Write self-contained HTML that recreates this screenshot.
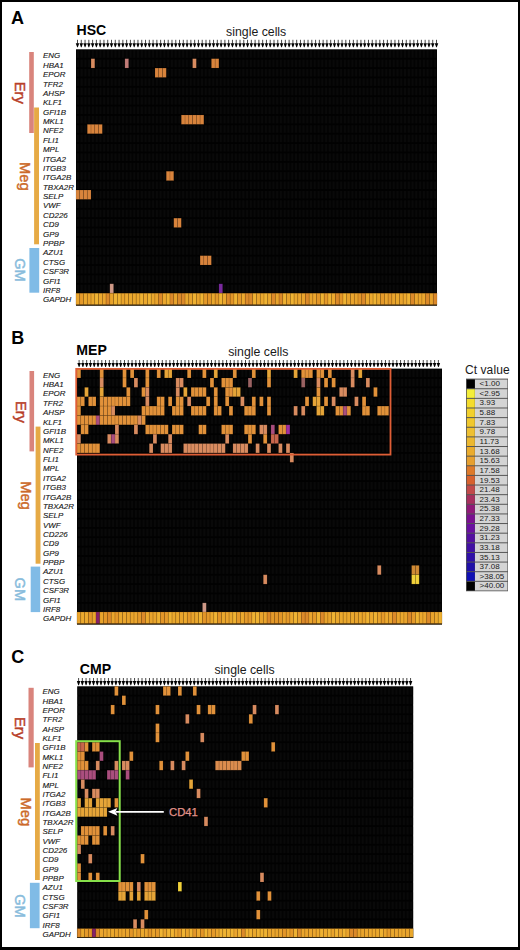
<!DOCTYPE html>
<html><head><meta charset="utf-8"><style>
html,body{margin:0;padding:0;background:#fff;}
body{width:520px;height:950px;position:relative;overflow:hidden;font-family:"Liberation Sans",sans-serif;}
svg{position:absolute;left:0;top:0;}
.frame{position:absolute;left:0;top:0;width:520px;height:950px;box-sizing:border-box;border:2px solid #000;border-bottom-width:3px;}
text{font-family:"Liberation Sans",sans-serif;}
.pl{font-size:18px;font-weight:bold;fill:#000;}
.ttl{font-size:14.1px;font-weight:bold;fill:#000;}
.sc{font-size:12.3px;fill:#1a1a1a;}
.gl{font-size:7.95px;font-style:italic;fill:#151515;stroke:#151515;stroke-width:0.12px;}
.grp{font-family:"Liberation Sans",sans-serif;}
.ctv{font-size:12px;fill:#1a1a1a;letter-spacing:0.1px;}
.lt{font-size:8px;fill:#1a1a1a;}
.cd{font-size:11.3px;fill:#e2928a;stroke:#e2928a;stroke-width:0.25px;}
</style></head><body>
<svg width="520" height="950" viewBox="0 0 520 950">
<defs><pattern id="patA" x="76.0" y="49.3" width="3.7604" height="9.3800" patternUnits="userSpaceOnUse"><rect x="0.7" y="0.9" width="2.360" height="7.580" fill="#090909"/></pattern><pattern id="patB" x="77.0" y="368.6" width="3.8021" height="9.3700" patternUnits="userSpaceOnUse"><rect x="0.7" y="0.9" width="2.402" height="7.570" fill="#090909"/></pattern><pattern id="patC" x="77.2" y="686.3" width="3.7333" height="9.3200" patternUnits="userSpaceOnUse"><rect x="0.7" y="0.9" width="2.333" height="7.520" fill="#090909"/></pattern></defs>
<text x="11" y="24.3" class="pl">A</text>
<text x="76.5" y="34.9" class="ttl">HSC</text>
<text x="256.2" y="35.5" class="sc" text-anchor="middle">single cells</text>
<line x1="77.50" y1="39.8" x2="77.50" y2="43.70" stroke="#333" stroke-width="0.9"/>
<path d="M75.75 43.20 L79.25 43.20 L77.80 47.30 L77.20 47.30 Z" fill="#000"/>
<line x1="81.28" y1="39.8" x2="81.28" y2="43.70" stroke="#333" stroke-width="0.9"/>
<path d="M79.53 43.20 L83.03 43.20 L81.58 47.30 L80.98 47.30 Z" fill="#000"/>
<line x1="85.06" y1="39.8" x2="85.06" y2="43.70" stroke="#333" stroke-width="0.9"/>
<path d="M83.31 43.20 L86.81 43.20 L85.36 47.30 L84.76 47.30 Z" fill="#000"/>
<line x1="88.84" y1="39.8" x2="88.84" y2="43.70" stroke="#333" stroke-width="0.9"/>
<path d="M87.09 43.20 L90.59 43.20 L89.14 47.30 L88.54 47.30 Z" fill="#000"/>
<line x1="92.62" y1="39.8" x2="92.62" y2="43.70" stroke="#333" stroke-width="0.9"/>
<path d="M90.87 43.20 L94.37 43.20 L92.92 47.30 L92.32 47.30 Z" fill="#000"/>
<line x1="96.39" y1="39.8" x2="96.39" y2="43.70" stroke="#333" stroke-width="0.9"/>
<path d="M94.64 43.20 L98.14 43.20 L96.69 47.30 L96.09 47.30 Z" fill="#000"/>
<line x1="100.17" y1="39.8" x2="100.17" y2="43.70" stroke="#333" stroke-width="0.9"/>
<path d="M98.42 43.20 L101.92 43.20 L100.47 47.30 L99.87 47.30 Z" fill="#000"/>
<line x1="103.95" y1="39.8" x2="103.95" y2="43.70" stroke="#333" stroke-width="0.9"/>
<path d="M102.20 43.20 L105.70 43.20 L104.25 47.30 L103.65 47.30 Z" fill="#000"/>
<line x1="107.73" y1="39.8" x2="107.73" y2="43.70" stroke="#333" stroke-width="0.9"/>
<path d="M105.98 43.20 L109.48 43.20 L108.03 47.30 L107.43 47.30 Z" fill="#000"/>
<line x1="111.51" y1="39.8" x2="111.51" y2="43.70" stroke="#333" stroke-width="0.9"/>
<path d="M109.76 43.20 L113.26 43.20 L111.81 47.30 L111.21 47.30 Z" fill="#000"/>
<line x1="115.29" y1="39.8" x2="115.29" y2="43.70" stroke="#333" stroke-width="0.9"/>
<path d="M113.54 43.20 L117.04 43.20 L115.59 47.30 L114.99 47.30 Z" fill="#000"/>
<line x1="119.07" y1="39.8" x2="119.07" y2="43.70" stroke="#333" stroke-width="0.9"/>
<path d="M117.32 43.20 L120.82 43.20 L119.37 47.30 L118.77 47.30 Z" fill="#000"/>
<line x1="122.85" y1="39.8" x2="122.85" y2="43.70" stroke="#333" stroke-width="0.9"/>
<path d="M121.10 43.20 L124.60 43.20 L123.15 47.30 L122.55 47.30 Z" fill="#000"/>
<line x1="126.63" y1="39.8" x2="126.63" y2="43.70" stroke="#333" stroke-width="0.9"/>
<path d="M124.88 43.20 L128.38 43.20 L126.93 47.30 L126.33 47.30 Z" fill="#000"/>
<line x1="130.41" y1="39.8" x2="130.41" y2="43.70" stroke="#333" stroke-width="0.9"/>
<path d="M128.66 43.20 L132.16 43.20 L130.71 47.30 L130.11 47.30 Z" fill="#000"/>
<line x1="134.19" y1="39.8" x2="134.19" y2="43.70" stroke="#333" stroke-width="0.9"/>
<path d="M132.44 43.20 L135.94 43.20 L134.49 47.30 L133.88 47.30 Z" fill="#000"/>
<line x1="137.96" y1="39.8" x2="137.96" y2="43.70" stroke="#333" stroke-width="0.9"/>
<path d="M136.21 43.20 L139.71 43.20 L138.26 47.30 L137.66 47.30 Z" fill="#000"/>
<line x1="141.74" y1="39.8" x2="141.74" y2="43.70" stroke="#333" stroke-width="0.9"/>
<path d="M139.99 43.20 L143.49 43.20 L142.04 47.30 L141.44 47.30 Z" fill="#000"/>
<line x1="145.52" y1="39.8" x2="145.52" y2="43.70" stroke="#333" stroke-width="0.9"/>
<path d="M143.77 43.20 L147.27 43.20 L145.82 47.30 L145.22 47.30 Z" fill="#000"/>
<line x1="149.30" y1="39.8" x2="149.30" y2="43.70" stroke="#333" stroke-width="0.9"/>
<path d="M147.55 43.20 L151.05 43.20 L149.60 47.30 L149.00 47.30 Z" fill="#000"/>
<line x1="153.08" y1="39.8" x2="153.08" y2="43.70" stroke="#333" stroke-width="0.9"/>
<path d="M151.33 43.20 L154.83 43.20 L153.38 47.30 L152.78 47.30 Z" fill="#000"/>
<line x1="156.86" y1="39.8" x2="156.86" y2="43.70" stroke="#333" stroke-width="0.9"/>
<path d="M155.11 43.20 L158.61 43.20 L157.16 47.30 L156.56 47.30 Z" fill="#000"/>
<line x1="160.64" y1="39.8" x2="160.64" y2="43.70" stroke="#333" stroke-width="0.9"/>
<path d="M158.89 43.20 L162.39 43.20 L160.94 47.30 L160.34 47.30 Z" fill="#000"/>
<line x1="164.42" y1="39.8" x2="164.42" y2="43.70" stroke="#333" stroke-width="0.9"/>
<path d="M162.67 43.20 L166.17 43.20 L164.72 47.30 L164.12 47.30 Z" fill="#000"/>
<line x1="168.20" y1="39.8" x2="168.20" y2="43.70" stroke="#333" stroke-width="0.9"/>
<path d="M166.45 43.20 L169.95 43.20 L168.50 47.30 L167.90 47.30 Z" fill="#000"/>
<line x1="171.97" y1="39.8" x2="171.97" y2="43.70" stroke="#333" stroke-width="0.9"/>
<path d="M170.22 43.20 L173.72 43.20 L172.28 47.30 L171.67 47.30 Z" fill="#000"/>
<line x1="175.75" y1="39.8" x2="175.75" y2="43.70" stroke="#333" stroke-width="0.9"/>
<path d="M174.00 43.20 L177.50 43.20 L176.05 47.30 L175.45 47.30 Z" fill="#000"/>
<line x1="179.53" y1="39.8" x2="179.53" y2="43.70" stroke="#333" stroke-width="0.9"/>
<path d="M177.78 43.20 L181.28 43.20 L179.83 47.30 L179.23 47.30 Z" fill="#000"/>
<line x1="183.31" y1="39.8" x2="183.31" y2="43.70" stroke="#333" stroke-width="0.9"/>
<path d="M181.56 43.20 L185.06 43.20 L183.61 47.30 L183.01 47.30 Z" fill="#000"/>
<line x1="187.09" y1="39.8" x2="187.09" y2="43.70" stroke="#333" stroke-width="0.9"/>
<path d="M185.34 43.20 L188.84 43.20 L187.39 47.30 L186.79 47.30 Z" fill="#000"/>
<line x1="190.87" y1="39.8" x2="190.87" y2="43.70" stroke="#333" stroke-width="0.9"/>
<path d="M189.12 43.20 L192.62 43.20 L191.17 47.30 L190.57 47.30 Z" fill="#000"/>
<line x1="194.65" y1="39.8" x2="194.65" y2="43.70" stroke="#333" stroke-width="0.9"/>
<path d="M192.90 43.20 L196.40 43.20 L194.95 47.30 L194.35 47.30 Z" fill="#000"/>
<line x1="198.43" y1="39.8" x2="198.43" y2="43.70" stroke="#333" stroke-width="0.9"/>
<path d="M196.68 43.20 L200.18 43.20 L198.73 47.30 L198.13 47.30 Z" fill="#000"/>
<line x1="202.21" y1="39.8" x2="202.21" y2="43.70" stroke="#333" stroke-width="0.9"/>
<path d="M200.46 43.20 L203.96 43.20 L202.51 47.30 L201.91 47.30 Z" fill="#000"/>
<line x1="205.99" y1="39.8" x2="205.99" y2="43.70" stroke="#333" stroke-width="0.9"/>
<path d="M204.24 43.20 L207.74 43.20 L206.29 47.30 L205.69 47.30 Z" fill="#000"/>
<line x1="209.76" y1="39.8" x2="209.76" y2="43.70" stroke="#333" stroke-width="0.9"/>
<path d="M208.01 43.20 L211.51 43.20 L210.06 47.30 L209.46 47.30 Z" fill="#000"/>
<line x1="213.54" y1="39.8" x2="213.54" y2="43.70" stroke="#333" stroke-width="0.9"/>
<path d="M211.79 43.20 L215.29 43.20 L213.84 47.30 L213.24 47.30 Z" fill="#000"/>
<line x1="217.32" y1="39.8" x2="217.32" y2="43.70" stroke="#333" stroke-width="0.9"/>
<path d="M215.57 43.20 L219.07 43.20 L217.62 47.30 L217.02 47.30 Z" fill="#000"/>
<line x1="221.10" y1="39.8" x2="221.10" y2="43.70" stroke="#333" stroke-width="0.9"/>
<path d="M219.35 43.20 L222.85 43.20 L221.40 47.30 L220.80 47.30 Z" fill="#000"/>
<line x1="224.88" y1="39.8" x2="224.88" y2="43.70" stroke="#333" stroke-width="0.9"/>
<path d="M223.13 43.20 L226.63 43.20 L225.18 47.30 L224.58 47.30 Z" fill="#000"/>
<line x1="228.66" y1="39.8" x2="228.66" y2="43.70" stroke="#333" stroke-width="0.9"/>
<path d="M226.91 43.20 L230.41 43.20 L228.96 47.30 L228.36 47.30 Z" fill="#000"/>
<line x1="232.44" y1="39.8" x2="232.44" y2="43.70" stroke="#333" stroke-width="0.9"/>
<path d="M230.69 43.20 L234.19 43.20 L232.74 47.30 L232.14 47.30 Z" fill="#000"/>
<line x1="236.22" y1="39.8" x2="236.22" y2="43.70" stroke="#333" stroke-width="0.9"/>
<path d="M234.47 43.20 L237.97 43.20 L236.52 47.30 L235.92 47.30 Z" fill="#000"/>
<line x1="240.00" y1="39.8" x2="240.00" y2="43.70" stroke="#333" stroke-width="0.9"/>
<path d="M238.25 43.20 L241.75 43.20 L240.30 47.30 L239.70 47.30 Z" fill="#000"/>
<line x1="243.78" y1="39.8" x2="243.78" y2="43.70" stroke="#333" stroke-width="0.9"/>
<path d="M242.03 43.20 L245.53 43.20 L244.08 47.30 L243.48 47.30 Z" fill="#000"/>
<line x1="247.56" y1="39.8" x2="247.56" y2="43.70" stroke="#333" stroke-width="0.9"/>
<path d="M245.81 43.20 L249.31 43.20 L247.86 47.30 L247.25 47.30 Z" fill="#000"/>
<line x1="251.33" y1="39.8" x2="251.33" y2="43.70" stroke="#333" stroke-width="0.9"/>
<path d="M249.58 43.20 L253.08 43.20 L251.63 47.30 L251.03 47.30 Z" fill="#000"/>
<line x1="255.11" y1="39.8" x2="255.11" y2="43.70" stroke="#333" stroke-width="0.9"/>
<path d="M253.36 43.20 L256.86 43.20 L255.41 47.30 L254.81 47.30 Z" fill="#000"/>
<line x1="258.89" y1="39.8" x2="258.89" y2="43.70" stroke="#333" stroke-width="0.9"/>
<path d="M257.14 43.20 L260.64 43.20 L259.19 47.30 L258.59 47.30 Z" fill="#000"/>
<line x1="262.67" y1="39.8" x2="262.67" y2="43.70" stroke="#333" stroke-width="0.9"/>
<path d="M260.92 43.20 L264.42 43.20 L262.97 47.30 L262.37 47.30 Z" fill="#000"/>
<line x1="266.45" y1="39.8" x2="266.45" y2="43.70" stroke="#333" stroke-width="0.9"/>
<path d="M264.70 43.20 L268.20 43.20 L266.75 47.30 L266.15 47.30 Z" fill="#000"/>
<line x1="270.23" y1="39.8" x2="270.23" y2="43.70" stroke="#333" stroke-width="0.9"/>
<path d="M268.48 43.20 L271.98 43.20 L270.53 47.30 L269.93 47.30 Z" fill="#000"/>
<line x1="274.01" y1="39.8" x2="274.01" y2="43.70" stroke="#333" stroke-width="0.9"/>
<path d="M272.26 43.20 L275.76 43.20 L274.31 47.30 L273.71 47.30 Z" fill="#000"/>
<line x1="277.79" y1="39.8" x2="277.79" y2="43.70" stroke="#333" stroke-width="0.9"/>
<path d="M276.04 43.20 L279.54 43.20 L278.09 47.30 L277.49 47.30 Z" fill="#000"/>
<line x1="281.57" y1="39.8" x2="281.57" y2="43.70" stroke="#333" stroke-width="0.9"/>
<path d="M279.82 43.20 L283.32 43.20 L281.87 47.30 L281.27 47.30 Z" fill="#000"/>
<line x1="285.35" y1="39.8" x2="285.35" y2="43.70" stroke="#333" stroke-width="0.9"/>
<path d="M283.60 43.20 L287.10 43.20 L285.65 47.30 L285.05 47.30 Z" fill="#000"/>
<line x1="289.12" y1="39.8" x2="289.12" y2="43.70" stroke="#333" stroke-width="0.9"/>
<path d="M287.37 43.20 L290.87 43.20 L289.42 47.30 L288.82 47.30 Z" fill="#000"/>
<line x1="292.90" y1="39.8" x2="292.90" y2="43.70" stroke="#333" stroke-width="0.9"/>
<path d="M291.15 43.20 L294.65 43.20 L293.20 47.30 L292.60 47.30 Z" fill="#000"/>
<line x1="296.68" y1="39.8" x2="296.68" y2="43.70" stroke="#333" stroke-width="0.9"/>
<path d="M294.93 43.20 L298.43 43.20 L296.98 47.30 L296.38 47.30 Z" fill="#000"/>
<line x1="300.46" y1="39.8" x2="300.46" y2="43.70" stroke="#333" stroke-width="0.9"/>
<path d="M298.71 43.20 L302.21 43.20 L300.76 47.30 L300.16 47.30 Z" fill="#000"/>
<line x1="304.24" y1="39.8" x2="304.24" y2="43.70" stroke="#333" stroke-width="0.9"/>
<path d="M302.49 43.20 L305.99 43.20 L304.54 47.30 L303.94 47.30 Z" fill="#000"/>
<line x1="308.02" y1="39.8" x2="308.02" y2="43.70" stroke="#333" stroke-width="0.9"/>
<path d="M306.27 43.20 L309.77 43.20 L308.32 47.30 L307.72 47.30 Z" fill="#000"/>
<line x1="311.80" y1="39.8" x2="311.80" y2="43.70" stroke="#333" stroke-width="0.9"/>
<path d="M310.05 43.20 L313.55 43.20 L312.10 47.30 L311.50 47.30 Z" fill="#000"/>
<line x1="315.58" y1="39.8" x2="315.58" y2="43.70" stroke="#333" stroke-width="0.9"/>
<path d="M313.83 43.20 L317.33 43.20 L315.88 47.30 L315.28 47.30 Z" fill="#000"/>
<line x1="319.36" y1="39.8" x2="319.36" y2="43.70" stroke="#333" stroke-width="0.9"/>
<path d="M317.61 43.20 L321.11 43.20 L319.66 47.30 L319.06 47.30 Z" fill="#000"/>
<line x1="323.13" y1="39.8" x2="323.13" y2="43.70" stroke="#333" stroke-width="0.9"/>
<path d="M321.38 43.20 L324.88 43.20 L323.44 47.30 L322.83 47.30 Z" fill="#000"/>
<line x1="326.91" y1="39.8" x2="326.91" y2="43.70" stroke="#333" stroke-width="0.9"/>
<path d="M325.16 43.20 L328.66 43.20 L327.21 47.30 L326.61 47.30 Z" fill="#000"/>
<line x1="330.69" y1="39.8" x2="330.69" y2="43.70" stroke="#333" stroke-width="0.9"/>
<path d="M328.94 43.20 L332.44 43.20 L330.99 47.30 L330.39 47.30 Z" fill="#000"/>
<line x1="334.47" y1="39.8" x2="334.47" y2="43.70" stroke="#333" stroke-width="0.9"/>
<path d="M332.72 43.20 L336.22 43.20 L334.77 47.30 L334.17 47.30 Z" fill="#000"/>
<line x1="338.25" y1="39.8" x2="338.25" y2="43.70" stroke="#333" stroke-width="0.9"/>
<path d="M336.50 43.20 L340.00 43.20 L338.55 47.30 L337.95 47.30 Z" fill="#000"/>
<line x1="342.03" y1="39.8" x2="342.03" y2="43.70" stroke="#333" stroke-width="0.9"/>
<path d="M340.28 43.20 L343.78 43.20 L342.33 47.30 L341.73 47.30 Z" fill="#000"/>
<line x1="345.81" y1="39.8" x2="345.81" y2="43.70" stroke="#333" stroke-width="0.9"/>
<path d="M344.06 43.20 L347.56 43.20 L346.11 47.30 L345.51 47.30 Z" fill="#000"/>
<line x1="349.59" y1="39.8" x2="349.59" y2="43.70" stroke="#333" stroke-width="0.9"/>
<path d="M347.84 43.20 L351.34 43.20 L349.89 47.30 L349.29 47.30 Z" fill="#000"/>
<line x1="353.37" y1="39.8" x2="353.37" y2="43.70" stroke="#333" stroke-width="0.9"/>
<path d="M351.62 43.20 L355.12 43.20 L353.67 47.30 L353.07 47.30 Z" fill="#000"/>
<line x1="357.15" y1="39.8" x2="357.15" y2="43.70" stroke="#333" stroke-width="0.9"/>
<path d="M355.40 43.20 L358.90 43.20 L357.45 47.30 L356.85 47.30 Z" fill="#000"/>
<line x1="360.93" y1="39.8" x2="360.93" y2="43.70" stroke="#333" stroke-width="0.9"/>
<path d="M359.18 43.20 L362.68 43.20 L361.23 47.30 L360.62 47.30 Z" fill="#000"/>
<line x1="364.70" y1="39.8" x2="364.70" y2="43.70" stroke="#333" stroke-width="0.9"/>
<path d="M362.95 43.20 L366.45 43.20 L365.00 47.30 L364.40 47.30 Z" fill="#000"/>
<line x1="368.48" y1="39.8" x2="368.48" y2="43.70" stroke="#333" stroke-width="0.9"/>
<path d="M366.73 43.20 L370.23 43.20 L368.78 47.30 L368.18 47.30 Z" fill="#000"/>
<line x1="372.26" y1="39.8" x2="372.26" y2="43.70" stroke="#333" stroke-width="0.9"/>
<path d="M370.51 43.20 L374.01 43.20 L372.56 47.30 L371.96 47.30 Z" fill="#000"/>
<line x1="376.04" y1="39.8" x2="376.04" y2="43.70" stroke="#333" stroke-width="0.9"/>
<path d="M374.29 43.20 L377.79 43.20 L376.34 47.30 L375.74 47.30 Z" fill="#000"/>
<line x1="379.82" y1="39.8" x2="379.82" y2="43.70" stroke="#333" stroke-width="0.9"/>
<path d="M378.07 43.20 L381.57 43.20 L380.12 47.30 L379.52 47.30 Z" fill="#000"/>
<line x1="383.60" y1="39.8" x2="383.60" y2="43.70" stroke="#333" stroke-width="0.9"/>
<path d="M381.85 43.20 L385.35 43.20 L383.90 47.30 L383.30 47.30 Z" fill="#000"/>
<line x1="387.38" y1="39.8" x2="387.38" y2="43.70" stroke="#333" stroke-width="0.9"/>
<path d="M385.63 43.20 L389.13 43.20 L387.68 47.30 L387.08 47.30 Z" fill="#000"/>
<line x1="391.16" y1="39.8" x2="391.16" y2="43.70" stroke="#333" stroke-width="0.9"/>
<path d="M389.41 43.20 L392.91 43.20 L391.46 47.30 L390.86 47.30 Z" fill="#000"/>
<line x1="394.94" y1="39.8" x2="394.94" y2="43.70" stroke="#333" stroke-width="0.9"/>
<path d="M393.19 43.20 L396.69 43.20 L395.24 47.30 L394.64 47.30 Z" fill="#000"/>
<line x1="398.71" y1="39.8" x2="398.71" y2="43.70" stroke="#333" stroke-width="0.9"/>
<path d="M396.96 43.20 L400.46 43.20 L399.01 47.30 L398.41 47.30 Z" fill="#000"/>
<line x1="402.49" y1="39.8" x2="402.49" y2="43.70" stroke="#333" stroke-width="0.9"/>
<path d="M400.74 43.20 L404.24 43.20 L402.79 47.30 L402.19 47.30 Z" fill="#000"/>
<line x1="406.27" y1="39.8" x2="406.27" y2="43.70" stroke="#333" stroke-width="0.9"/>
<path d="M404.52 43.20 L408.02 43.20 L406.57 47.30 L405.97 47.30 Z" fill="#000"/>
<line x1="410.05" y1="39.8" x2="410.05" y2="43.70" stroke="#333" stroke-width="0.9"/>
<path d="M408.30 43.20 L411.80 43.20 L410.35 47.30 L409.75 47.30 Z" fill="#000"/>
<line x1="413.83" y1="39.8" x2="413.83" y2="43.70" stroke="#333" stroke-width="0.9"/>
<path d="M412.08 43.20 L415.58 43.20 L414.13 47.30 L413.53 47.30 Z" fill="#000"/>
<line x1="417.61" y1="39.8" x2="417.61" y2="43.70" stroke="#333" stroke-width="0.9"/>
<path d="M415.86 43.20 L419.36 43.20 L417.91 47.30 L417.31 47.30 Z" fill="#000"/>
<line x1="421.39" y1="39.8" x2="421.39" y2="43.70" stroke="#333" stroke-width="0.9"/>
<path d="M419.64 43.20 L423.14 43.20 L421.69 47.30 L421.09 47.30 Z" fill="#000"/>
<line x1="425.17" y1="39.8" x2="425.17" y2="43.70" stroke="#333" stroke-width="0.9"/>
<path d="M423.42 43.20 L426.92 43.20 L425.47 47.30 L424.87 47.30 Z" fill="#000"/>
<line x1="428.95" y1="39.8" x2="428.95" y2="43.70" stroke="#333" stroke-width="0.9"/>
<path d="M427.20 43.20 L430.70 43.20 L429.25 47.30 L428.65 47.30 Z" fill="#000"/>
<line x1="432.73" y1="39.8" x2="432.73" y2="43.70" stroke="#333" stroke-width="0.9"/>
<path d="M430.98 43.20 L434.48 43.20 L433.03 47.30 L432.43 47.30 Z" fill="#000"/>
<line x1="436.50" y1="39.8" x2="436.50" y2="43.70" stroke="#333" stroke-width="0.9"/>
<path d="M434.75 43.20 L438.25 43.20 L436.81 47.30 L436.20 47.30 Z" fill="#000"/>
<rect x="76.0" y="49.3" width="361.00" height="256.30" fill="#000"/>
<rect x="76.0" y="49.3" width="361.00" height="243.90" fill="url(#patA)"/>
<rect x="91.04" y="58.68" width="3.76" height="9.38" fill="#d98c60" stroke="#000" stroke-opacity="0.18" stroke-width="0.6"/>
<rect x="124.89" y="58.68" width="3.76" height="9.38" fill="#c27c78" stroke="#000" stroke-opacity="0.18" stroke-width="0.6"/>
<rect x="192.57" y="58.68" width="3.76" height="9.38" fill="#d98c60" stroke="#000" stroke-opacity="0.18" stroke-width="0.6"/>
<rect x="211.38" y="58.68" width="3.76" height="9.38" fill="#d9843c" stroke="#000" stroke-opacity="0.18" stroke-width="0.6"/>
<rect x="215.14" y="58.68" width="3.76" height="9.38" fill="#d9843c" stroke="#000" stroke-opacity="0.18" stroke-width="0.6"/>
<rect x="154.97" y="68.06" width="3.76" height="9.38" fill="#d9843c" stroke="#000" stroke-opacity="0.18" stroke-width="0.6"/>
<rect x="158.73" y="68.06" width="3.76" height="9.38" fill="#d9843c" stroke="#000" stroke-opacity="0.18" stroke-width="0.6"/>
<rect x="162.49" y="68.06" width="3.76" height="9.38" fill="#d9843c" stroke="#000" stroke-opacity="0.18" stroke-width="0.6"/>
<rect x="181.29" y="114.96" width="3.76" height="9.38" fill="#d9843c" stroke="#000" stroke-opacity="0.18" stroke-width="0.6"/>
<rect x="185.05" y="114.96" width="3.76" height="9.38" fill="#d9843c" stroke="#000" stroke-opacity="0.18" stroke-width="0.6"/>
<rect x="188.81" y="114.96" width="3.76" height="9.38" fill="#d9843c" stroke="#000" stroke-opacity="0.18" stroke-width="0.6"/>
<rect x="192.57" y="114.96" width="3.76" height="9.38" fill="#d9843c" stroke="#000" stroke-opacity="0.18" stroke-width="0.6"/>
<rect x="196.33" y="114.96" width="3.76" height="9.38" fill="#d9843c" stroke="#000" stroke-opacity="0.18" stroke-width="0.6"/>
<rect x="200.09" y="114.96" width="3.76" height="9.38" fill="#d9843c" stroke="#000" stroke-opacity="0.18" stroke-width="0.6"/>
<rect x="87.28" y="124.34" width="3.76" height="9.38" fill="#d9843c" stroke="#000" stroke-opacity="0.18" stroke-width="0.6"/>
<rect x="91.04" y="124.34" width="3.76" height="9.38" fill="#d9843c" stroke="#000" stroke-opacity="0.18" stroke-width="0.6"/>
<rect x="94.80" y="124.34" width="3.76" height="9.38" fill="#d9843c" stroke="#000" stroke-opacity="0.18" stroke-width="0.6"/>
<rect x="98.56" y="124.34" width="3.76" height="9.38" fill="#d9843c" stroke="#000" stroke-opacity="0.18" stroke-width="0.6"/>
<rect x="166.25" y="171.24" width="3.76" height="9.38" fill="#d9843c" stroke="#000" stroke-opacity="0.18" stroke-width="0.6"/>
<rect x="170.01" y="171.24" width="3.76" height="9.38" fill="#d9843c" stroke="#000" stroke-opacity="0.18" stroke-width="0.6"/>
<rect x="76.00" y="190.00" width="3.76" height="9.38" fill="#d9843c" stroke="#000" stroke-opacity="0.18" stroke-width="0.6"/>
<rect x="79.76" y="190.00" width="3.76" height="9.38" fill="#d9843c" stroke="#000" stroke-opacity="0.18" stroke-width="0.6"/>
<rect x="83.52" y="190.00" width="3.76" height="9.38" fill="#d9843c" stroke="#000" stroke-opacity="0.18" stroke-width="0.6"/>
<rect x="87.28" y="190.00" width="3.76" height="9.38" fill="#d9843c" stroke="#000" stroke-opacity="0.18" stroke-width="0.6"/>
<rect x="173.77" y="218.14" width="3.76" height="9.38" fill="#d9843c" stroke="#000" stroke-opacity="0.18" stroke-width="0.6"/>
<rect x="177.53" y="218.14" width="3.76" height="9.38" fill="#d9843c" stroke="#000" stroke-opacity="0.18" stroke-width="0.6"/>
<rect x="200.09" y="255.66" width="3.76" height="9.38" fill="#d9843c" stroke="#000" stroke-opacity="0.18" stroke-width="0.6"/>
<rect x="203.85" y="255.66" width="3.76" height="9.38" fill="#d9843c" stroke="#000" stroke-opacity="0.18" stroke-width="0.6"/>
<rect x="207.61" y="255.66" width="3.76" height="9.38" fill="#d9843c" stroke="#000" stroke-opacity="0.18" stroke-width="0.6"/>
<rect x="109.84" y="283.80" width="3.76" height="9.38" fill="#d09a88" stroke="#000" stroke-opacity="0.18" stroke-width="0.6"/>
<rect x="218.90" y="283.80" width="3.76" height="9.38" fill="#7a2a9e" stroke="#000" stroke-opacity="0.18" stroke-width="0.6"/>
<rect x="76.00" y="293.20" width="3.76" height="11.60" fill="#eba62e" stroke="#6a4010" stroke-opacity="0.35" stroke-width="0.6"/>
<rect x="79.76" y="293.20" width="3.76" height="11.60" fill="#e59a2a" stroke="#6a4010" stroke-opacity="0.35" stroke-width="0.6"/>
<rect x="83.52" y="293.20" width="3.76" height="11.60" fill="#eaa82d" stroke="#6a4010" stroke-opacity="0.35" stroke-width="0.6"/>
<rect x="87.28" y="293.20" width="3.76" height="11.60" fill="#e9a42c" stroke="#6a4010" stroke-opacity="0.35" stroke-width="0.6"/>
<rect x="91.04" y="293.20" width="3.76" height="11.60" fill="#eca92e" stroke="#6a4010" stroke-opacity="0.35" stroke-width="0.6"/>
<rect x="94.80" y="293.20" width="3.76" height="11.60" fill="#f0b433" stroke="#6a4010" stroke-opacity="0.35" stroke-width="0.6"/>
<rect x="98.56" y="293.20" width="3.76" height="11.60" fill="#eca92e" stroke="#6a4010" stroke-opacity="0.35" stroke-width="0.6"/>
<rect x="102.32" y="293.20" width="3.76" height="11.60" fill="#eba62e" stroke="#6a4010" stroke-opacity="0.35" stroke-width="0.6"/>
<rect x="106.08" y="293.20" width="3.76" height="11.60" fill="#dc8a2a" stroke="#6a4010" stroke-opacity="0.35" stroke-width="0.6"/>
<rect x="109.84" y="293.20" width="3.76" height="11.60" fill="#e9a42c" stroke="#6a4010" stroke-opacity="0.35" stroke-width="0.6"/>
<rect x="113.60" y="293.20" width="3.76" height="11.60" fill="#f0b433" stroke="#6a4010" stroke-opacity="0.35" stroke-width="0.6"/>
<rect x="117.36" y="293.20" width="3.76" height="11.60" fill="#efb232" stroke="#6a4010" stroke-opacity="0.35" stroke-width="0.6"/>
<rect x="121.12" y="293.20" width="3.76" height="11.60" fill="#e9a42c" stroke="#6a4010" stroke-opacity="0.35" stroke-width="0.6"/>
<rect x="124.89" y="293.20" width="3.76" height="11.60" fill="#eca92e" stroke="#6a4010" stroke-opacity="0.35" stroke-width="0.6"/>
<rect x="128.65" y="293.20" width="3.76" height="11.60" fill="#eaa82d" stroke="#6a4010" stroke-opacity="0.35" stroke-width="0.6"/>
<rect x="132.41" y="293.20" width="3.76" height="11.60" fill="#eaa82d" stroke="#6a4010" stroke-opacity="0.35" stroke-width="0.6"/>
<rect x="136.17" y="293.20" width="3.76" height="11.60" fill="#eca92e" stroke="#6a4010" stroke-opacity="0.35" stroke-width="0.6"/>
<rect x="139.93" y="293.20" width="3.76" height="11.60" fill="#efb232" stroke="#6a4010" stroke-opacity="0.35" stroke-width="0.6"/>
<rect x="143.69" y="293.20" width="3.76" height="11.60" fill="#eca92e" stroke="#6a4010" stroke-opacity="0.35" stroke-width="0.6"/>
<rect x="147.45" y="293.20" width="3.76" height="11.60" fill="#f0b433" stroke="#6a4010" stroke-opacity="0.35" stroke-width="0.6"/>
<rect x="151.21" y="293.20" width="3.76" height="11.60" fill="#eaa82d" stroke="#6a4010" stroke-opacity="0.35" stroke-width="0.6"/>
<rect x="154.97" y="293.20" width="3.76" height="11.60" fill="#e9a42c" stroke="#6a4010" stroke-opacity="0.35" stroke-width="0.6"/>
<rect x="158.73" y="293.20" width="3.76" height="11.60" fill="#dc8a2a" stroke="#6a4010" stroke-opacity="0.35" stroke-width="0.6"/>
<rect x="162.49" y="293.20" width="3.76" height="11.60" fill="#eca92e" stroke="#6a4010" stroke-opacity="0.35" stroke-width="0.6"/>
<rect x="166.25" y="293.20" width="3.76" height="11.60" fill="#efb232" stroke="#6a4010" stroke-opacity="0.35" stroke-width="0.6"/>
<rect x="170.01" y="293.20" width="3.76" height="11.60" fill="#dc8a2a" stroke="#6a4010" stroke-opacity="0.35" stroke-width="0.6"/>
<rect x="173.77" y="293.20" width="3.76" height="11.60" fill="#e9a42c" stroke="#6a4010" stroke-opacity="0.35" stroke-width="0.6"/>
<rect x="177.53" y="293.20" width="3.76" height="11.60" fill="#dc8a2a" stroke="#6a4010" stroke-opacity="0.35" stroke-width="0.6"/>
<rect x="181.29" y="293.20" width="3.76" height="11.60" fill="#dc8a2a" stroke="#6a4010" stroke-opacity="0.35" stroke-width="0.6"/>
<rect x="185.05" y="293.20" width="3.76" height="11.60" fill="#eaa82d" stroke="#6a4010" stroke-opacity="0.35" stroke-width="0.6"/>
<rect x="188.81" y="293.20" width="3.76" height="11.60" fill="#e9a42c" stroke="#6a4010" stroke-opacity="0.35" stroke-width="0.6"/>
<rect x="192.57" y="293.20" width="3.76" height="11.60" fill="#efb232" stroke="#6a4010" stroke-opacity="0.35" stroke-width="0.6"/>
<rect x="196.33" y="293.20" width="3.76" height="11.60" fill="#e9a42c" stroke="#6a4010" stroke-opacity="0.35" stroke-width="0.6"/>
<rect x="200.09" y="293.20" width="3.76" height="11.60" fill="#f0b433" stroke="#6a4010" stroke-opacity="0.35" stroke-width="0.6"/>
<rect x="203.85" y="293.20" width="3.76" height="11.60" fill="#e59a2a" stroke="#6a4010" stroke-opacity="0.35" stroke-width="0.6"/>
<rect x="207.61" y="293.20" width="3.76" height="11.60" fill="#e39628" stroke="#6a4010" stroke-opacity="0.35" stroke-width="0.6"/>
<rect x="211.38" y="293.20" width="3.76" height="11.60" fill="#eaa82d" stroke="#6a4010" stroke-opacity="0.35" stroke-width="0.6"/>
<rect x="215.14" y="293.20" width="3.76" height="11.60" fill="#e59a2a" stroke="#6a4010" stroke-opacity="0.35" stroke-width="0.6"/>
<rect x="218.90" y="293.20" width="3.76" height="11.60" fill="#f0b433" stroke="#6a4010" stroke-opacity="0.35" stroke-width="0.6"/>
<rect x="222.66" y="293.20" width="3.76" height="11.60" fill="#eca92e" stroke="#6a4010" stroke-opacity="0.35" stroke-width="0.6"/>
<rect x="226.42" y="293.20" width="3.76" height="11.60" fill="#dc8a2a" stroke="#6a4010" stroke-opacity="0.35" stroke-width="0.6"/>
<rect x="230.18" y="293.20" width="3.76" height="11.60" fill="#e39628" stroke="#6a4010" stroke-opacity="0.35" stroke-width="0.6"/>
<rect x="233.94" y="293.20" width="3.76" height="11.60" fill="#f0b433" stroke="#6a4010" stroke-opacity="0.35" stroke-width="0.6"/>
<rect x="237.70" y="293.20" width="3.76" height="11.60" fill="#e59a2a" stroke="#6a4010" stroke-opacity="0.35" stroke-width="0.6"/>
<rect x="241.46" y="293.20" width="3.76" height="11.60" fill="#eca92e" stroke="#6a4010" stroke-opacity="0.35" stroke-width="0.6"/>
<rect x="245.22" y="293.20" width="3.76" height="11.60" fill="#dc8a2a" stroke="#6a4010" stroke-opacity="0.35" stroke-width="0.6"/>
<rect x="248.98" y="293.20" width="3.76" height="11.60" fill="#dc8a2a" stroke="#6a4010" stroke-opacity="0.35" stroke-width="0.6"/>
<rect x="252.74" y="293.20" width="3.76" height="11.60" fill="#efb232" stroke="#6a4010" stroke-opacity="0.35" stroke-width="0.6"/>
<rect x="256.50" y="293.20" width="3.76" height="11.60" fill="#eba62e" stroke="#6a4010" stroke-opacity="0.35" stroke-width="0.6"/>
<rect x="260.26" y="293.20" width="3.76" height="11.60" fill="#eca92e" stroke="#6a4010" stroke-opacity="0.35" stroke-width="0.6"/>
<rect x="264.02" y="293.20" width="3.76" height="11.60" fill="#f0b433" stroke="#6a4010" stroke-opacity="0.35" stroke-width="0.6"/>
<rect x="267.78" y="293.20" width="3.76" height="11.60" fill="#eca92e" stroke="#6a4010" stroke-opacity="0.35" stroke-width="0.6"/>
<rect x="271.54" y="293.20" width="3.76" height="11.60" fill="#dc8a2a" stroke="#6a4010" stroke-opacity="0.35" stroke-width="0.6"/>
<rect x="275.30" y="293.20" width="3.76" height="11.60" fill="#e9a42c" stroke="#6a4010" stroke-opacity="0.35" stroke-width="0.6"/>
<rect x="279.06" y="293.20" width="3.76" height="11.60" fill="#dc8a2a" stroke="#6a4010" stroke-opacity="0.35" stroke-width="0.6"/>
<rect x="282.82" y="293.20" width="3.76" height="11.60" fill="#efb232" stroke="#6a4010" stroke-opacity="0.35" stroke-width="0.6"/>
<rect x="286.58" y="293.20" width="3.76" height="11.60" fill="#e9a42c" stroke="#6a4010" stroke-opacity="0.35" stroke-width="0.6"/>
<rect x="290.34" y="293.20" width="3.76" height="11.60" fill="#f0b433" stroke="#6a4010" stroke-opacity="0.35" stroke-width="0.6"/>
<rect x="294.10" y="293.20" width="3.76" height="11.60" fill="#eaa82d" stroke="#6a4010" stroke-opacity="0.35" stroke-width="0.6"/>
<rect x="297.86" y="293.20" width="3.76" height="11.60" fill="#eba62e" stroke="#6a4010" stroke-opacity="0.35" stroke-width="0.6"/>
<rect x="301.62" y="293.20" width="3.76" height="11.60" fill="#e9a42c" stroke="#6a4010" stroke-opacity="0.35" stroke-width="0.6"/>
<rect x="305.39" y="293.20" width="3.76" height="11.60" fill="#dc8a2a" stroke="#6a4010" stroke-opacity="0.35" stroke-width="0.6"/>
<rect x="309.15" y="293.20" width="3.76" height="11.60" fill="#e9a42c" stroke="#6a4010" stroke-opacity="0.35" stroke-width="0.6"/>
<rect x="312.91" y="293.20" width="3.76" height="11.60" fill="#eba62e" stroke="#6a4010" stroke-opacity="0.35" stroke-width="0.6"/>
<rect x="316.67" y="293.20" width="3.76" height="11.60" fill="#e39628" stroke="#6a4010" stroke-opacity="0.35" stroke-width="0.6"/>
<rect x="320.43" y="293.20" width="3.76" height="11.60" fill="#efb232" stroke="#6a4010" stroke-opacity="0.35" stroke-width="0.6"/>
<rect x="324.19" y="293.20" width="3.76" height="11.60" fill="#e59a2a" stroke="#6a4010" stroke-opacity="0.35" stroke-width="0.6"/>
<rect x="327.95" y="293.20" width="3.76" height="11.60" fill="#efb232" stroke="#6a4010" stroke-opacity="0.35" stroke-width="0.6"/>
<rect x="331.71" y="293.20" width="3.76" height="11.60" fill="#eca92e" stroke="#6a4010" stroke-opacity="0.35" stroke-width="0.6"/>
<rect x="335.47" y="293.20" width="3.76" height="11.60" fill="#dc8a2a" stroke="#6a4010" stroke-opacity="0.35" stroke-width="0.6"/>
<rect x="339.23" y="293.20" width="3.76" height="11.60" fill="#e39628" stroke="#6a4010" stroke-opacity="0.35" stroke-width="0.6"/>
<rect x="342.99" y="293.20" width="3.76" height="11.60" fill="#f0b433" stroke="#6a4010" stroke-opacity="0.35" stroke-width="0.6"/>
<rect x="346.75" y="293.20" width="3.76" height="11.60" fill="#e9a42c" stroke="#6a4010" stroke-opacity="0.35" stroke-width="0.6"/>
<rect x="350.51" y="293.20" width="3.76" height="11.60" fill="#eba62e" stroke="#6a4010" stroke-opacity="0.35" stroke-width="0.6"/>
<rect x="354.27" y="293.20" width="3.76" height="11.60" fill="#e9a42c" stroke="#6a4010" stroke-opacity="0.35" stroke-width="0.6"/>
<rect x="358.03" y="293.20" width="3.76" height="11.60" fill="#e39628" stroke="#6a4010" stroke-opacity="0.35" stroke-width="0.6"/>
<rect x="361.79" y="293.20" width="3.76" height="11.60" fill="#dc8a2a" stroke="#6a4010" stroke-opacity="0.35" stroke-width="0.6"/>
<rect x="365.55" y="293.20" width="3.76" height="11.60" fill="#eca92e" stroke="#6a4010" stroke-opacity="0.35" stroke-width="0.6"/>
<rect x="369.31" y="293.20" width="3.76" height="11.60" fill="#eca92e" stroke="#6a4010" stroke-opacity="0.35" stroke-width="0.6"/>
<rect x="373.07" y="293.20" width="3.76" height="11.60" fill="#f0b433" stroke="#6a4010" stroke-opacity="0.35" stroke-width="0.6"/>
<rect x="376.83" y="293.20" width="3.76" height="11.60" fill="#eaa82d" stroke="#6a4010" stroke-opacity="0.35" stroke-width="0.6"/>
<rect x="380.59" y="293.20" width="3.76" height="11.60" fill="#e59a2a" stroke="#6a4010" stroke-opacity="0.35" stroke-width="0.6"/>
<rect x="384.35" y="293.20" width="3.76" height="11.60" fill="#eba62e" stroke="#6a4010" stroke-opacity="0.35" stroke-width="0.6"/>
<rect x="388.11" y="293.20" width="3.76" height="11.60" fill="#e59a2a" stroke="#6a4010" stroke-opacity="0.35" stroke-width="0.6"/>
<rect x="391.88" y="293.20" width="3.76" height="11.60" fill="#e9a42c" stroke="#6a4010" stroke-opacity="0.35" stroke-width="0.6"/>
<rect x="395.64" y="293.20" width="3.76" height="11.60" fill="#eaa82d" stroke="#6a4010" stroke-opacity="0.35" stroke-width="0.6"/>
<rect x="399.40" y="293.20" width="3.76" height="11.60" fill="#e9a42c" stroke="#6a4010" stroke-opacity="0.35" stroke-width="0.6"/>
<rect x="403.16" y="293.20" width="3.76" height="11.60" fill="#eca92e" stroke="#6a4010" stroke-opacity="0.35" stroke-width="0.6"/>
<rect x="406.92" y="293.20" width="3.76" height="11.60" fill="#f0b433" stroke="#6a4010" stroke-opacity="0.35" stroke-width="0.6"/>
<rect x="410.68" y="293.20" width="3.76" height="11.60" fill="#dc8a2a" stroke="#6a4010" stroke-opacity="0.35" stroke-width="0.6"/>
<rect x="414.44" y="293.20" width="3.76" height="11.60" fill="#eba62e" stroke="#6a4010" stroke-opacity="0.35" stroke-width="0.6"/>
<rect x="418.20" y="293.20" width="3.76" height="11.60" fill="#eba62e" stroke="#6a4010" stroke-opacity="0.35" stroke-width="0.6"/>
<rect x="421.96" y="293.20" width="3.76" height="11.60" fill="#eba62e" stroke="#6a4010" stroke-opacity="0.35" stroke-width="0.6"/>
<rect x="425.72" y="293.20" width="3.76" height="11.60" fill="#dc8a2a" stroke="#6a4010" stroke-opacity="0.35" stroke-width="0.6"/>
<rect x="429.48" y="293.20" width="3.76" height="11.60" fill="#e9a42c" stroke="#6a4010" stroke-opacity="0.35" stroke-width="0.6"/>
<rect x="433.24" y="293.20" width="3.76" height="11.60" fill="#dc8a2a" stroke="#6a4010" stroke-opacity="0.35" stroke-width="0.6"/>
<rect x="76.0" y="304.70" width="361.00" height="0.9" fill="#3a2a10"/>
<text x="43.0" y="58.40" class="gl">ENG</text>
<text x="43.0" y="67.78" class="gl">HBA1</text>
<text x="43.0" y="77.16" class="gl">EPOR</text>
<text x="43.0" y="86.54" class="gl">TFR2</text>
<text x="43.0" y="95.92" class="gl">AHSP</text>
<text x="43.0" y="105.30" class="gl">KLF1</text>
<text x="43.0" y="114.68" class="gl">GFI1B</text>
<text x="43.0" y="124.06" class="gl">MKL1</text>
<text x="43.0" y="133.44" class="gl">NFE2</text>
<text x="43.0" y="142.82" class="gl">FLI1</text>
<text x="43.0" y="152.20" class="gl">MPL</text>
<text x="43.0" y="161.58" class="gl">ITGA2</text>
<text x="43.0" y="170.96" class="gl">ITGB3</text>
<text x="43.0" y="180.34" class="gl">ITGA2B</text>
<text x="43.0" y="189.72" class="gl">TBXA2R</text>
<text x="43.0" y="199.10" class="gl">SELP</text>
<text x="43.0" y="208.48" class="gl">VWF</text>
<text x="43.0" y="217.86" class="gl">CD226</text>
<text x="43.0" y="227.24" class="gl">CD9</text>
<text x="43.0" y="236.62" class="gl">GP9</text>
<text x="43.0" y="246.00" class="gl">PPBP</text>
<text x="43.0" y="255.38" class="gl">AZU1</text>
<text x="43.0" y="264.76" class="gl">CTSG</text>
<text x="43.0" y="274.14" class="gl">CSF3R</text>
<text x="43.0" y="283.52" class="gl">GFI1</text>
<text x="43.0" y="292.90" class="gl">IRF8</text>
<text x="43.0" y="302.28" class="gl">GAPDH</text>
<rect x="29.2" y="52" width="4.6" height="81" fill="#d9847c"/>
<rect x="34.1" y="107.5" width="4.9" height="136.8" fill="#e6aa45"/>
<rect x="29.4" y="248" width="9.8" height="44.7" fill="#80bbe6"/>
<text transform="translate(14.5,92.8) rotate(90)" text-anchor="middle" font-size="14.7" fill="#b8402a" stroke="#b8402a" stroke-width="0.45" class="grp">Ery</text>
<text transform="translate(20.2,176.4) rotate(90)" text-anchor="middle" font-size="14.7" fill="#cc6a2a" stroke="#cc6a2a" stroke-width="0.45" class="grp">Meg</text>
<text transform="translate(15.0,270.0) rotate(90)" text-anchor="middle" font-size="14.7" fill="#88bcdc" stroke="#88bcdc" stroke-width="0.45" class="grp">GM</text>
<text x="11.3" y="344.3" class="pl">B</text>
<text x="76.3" y="355.4" class="ttl">MEP</text>
<text x="258.3" y="355.6" class="sc" text-anchor="middle">single cells</text>
<line x1="79.10" y1="360.0" x2="79.10" y2="363.40" stroke="#333" stroke-width="0.9"/>
<path d="M77.35 362.90 L80.85 362.90 L79.40 367.00 L78.80 367.00 Z" fill="#000"/>
<line x1="82.88" y1="360.0" x2="82.88" y2="363.40" stroke="#333" stroke-width="0.9"/>
<path d="M81.13 362.90 L84.63 362.90 L83.18 367.00 L82.58 367.00 Z" fill="#000"/>
<line x1="86.66" y1="360.0" x2="86.66" y2="363.40" stroke="#333" stroke-width="0.9"/>
<path d="M84.91 362.90 L88.41 362.90 L86.96 367.00 L86.36 367.00 Z" fill="#000"/>
<line x1="90.45" y1="360.0" x2="90.45" y2="363.40" stroke="#333" stroke-width="0.9"/>
<path d="M88.70 362.90 L92.20 362.90 L90.75 367.00 L90.15 367.00 Z" fill="#000"/>
<line x1="94.23" y1="360.0" x2="94.23" y2="363.40" stroke="#333" stroke-width="0.9"/>
<path d="M92.48 362.90 L95.98 362.90 L94.53 367.00 L93.93 367.00 Z" fill="#000"/>
<line x1="98.01" y1="360.0" x2="98.01" y2="363.40" stroke="#333" stroke-width="0.9"/>
<path d="M96.26 362.90 L99.76 362.90 L98.31 367.00 L97.71 367.00 Z" fill="#000"/>
<line x1="101.79" y1="360.0" x2="101.79" y2="363.40" stroke="#333" stroke-width="0.9"/>
<path d="M100.04 362.90 L103.54 362.90 L102.09 367.00 L101.49 367.00 Z" fill="#000"/>
<line x1="105.57" y1="360.0" x2="105.57" y2="363.40" stroke="#333" stroke-width="0.9"/>
<path d="M103.82 362.90 L107.32 362.90 L105.87 367.00 L105.27 367.00 Z" fill="#000"/>
<line x1="109.36" y1="360.0" x2="109.36" y2="363.40" stroke="#333" stroke-width="0.9"/>
<path d="M107.61 362.90 L111.11 362.90 L109.66 367.00 L109.06 367.00 Z" fill="#000"/>
<line x1="113.14" y1="360.0" x2="113.14" y2="363.40" stroke="#333" stroke-width="0.9"/>
<path d="M111.39 362.90 L114.89 362.90 L113.44 367.00 L112.84 367.00 Z" fill="#000"/>
<line x1="116.92" y1="360.0" x2="116.92" y2="363.40" stroke="#333" stroke-width="0.9"/>
<path d="M115.17 362.90 L118.67 362.90 L117.22 367.00 L116.62 367.00 Z" fill="#000"/>
<line x1="120.70" y1="360.0" x2="120.70" y2="363.40" stroke="#333" stroke-width="0.9"/>
<path d="M118.95 362.90 L122.45 362.90 L121.00 367.00 L120.40 367.00 Z" fill="#000"/>
<line x1="124.48" y1="360.0" x2="124.48" y2="363.40" stroke="#333" stroke-width="0.9"/>
<path d="M122.73 362.90 L126.23 362.90 L124.78 367.00 L124.18 367.00 Z" fill="#000"/>
<line x1="128.27" y1="360.0" x2="128.27" y2="363.40" stroke="#333" stroke-width="0.9"/>
<path d="M126.52 362.90 L130.02 362.90 L128.57 367.00 L127.97 367.00 Z" fill="#000"/>
<line x1="132.05" y1="360.0" x2="132.05" y2="363.40" stroke="#333" stroke-width="0.9"/>
<path d="M130.30 362.90 L133.80 362.90 L132.35 367.00 L131.75 367.00 Z" fill="#000"/>
<line x1="135.83" y1="360.0" x2="135.83" y2="363.40" stroke="#333" stroke-width="0.9"/>
<path d="M134.08 362.90 L137.58 362.90 L136.13 367.00 L135.53 367.00 Z" fill="#000"/>
<line x1="139.61" y1="360.0" x2="139.61" y2="363.40" stroke="#333" stroke-width="0.9"/>
<path d="M137.86 362.90 L141.36 362.90 L139.91 367.00 L139.31 367.00 Z" fill="#000"/>
<line x1="143.39" y1="360.0" x2="143.39" y2="363.40" stroke="#333" stroke-width="0.9"/>
<path d="M141.64 362.90 L145.14 362.90 L143.69 367.00 L143.09 367.00 Z" fill="#000"/>
<line x1="147.18" y1="360.0" x2="147.18" y2="363.40" stroke="#333" stroke-width="0.9"/>
<path d="M145.43 362.90 L148.93 362.90 L147.48 367.00 L146.88 367.00 Z" fill="#000"/>
<line x1="150.96" y1="360.0" x2="150.96" y2="363.40" stroke="#333" stroke-width="0.9"/>
<path d="M149.21 362.90 L152.71 362.90 L151.26 367.00 L150.66 367.00 Z" fill="#000"/>
<line x1="154.74" y1="360.0" x2="154.74" y2="363.40" stroke="#333" stroke-width="0.9"/>
<path d="M152.99 362.90 L156.49 362.90 L155.04 367.00 L154.44 367.00 Z" fill="#000"/>
<line x1="158.52" y1="360.0" x2="158.52" y2="363.40" stroke="#333" stroke-width="0.9"/>
<path d="M156.77 362.90 L160.27 362.90 L158.82 367.00 L158.22 367.00 Z" fill="#000"/>
<line x1="162.30" y1="360.0" x2="162.30" y2="363.40" stroke="#333" stroke-width="0.9"/>
<path d="M160.55 362.90 L164.05 362.90 L162.60 367.00 L162.00 367.00 Z" fill="#000"/>
<line x1="166.09" y1="360.0" x2="166.09" y2="363.40" stroke="#333" stroke-width="0.9"/>
<path d="M164.34 362.90 L167.84 362.90 L166.39 367.00 L165.79 367.00 Z" fill="#000"/>
<line x1="169.87" y1="360.0" x2="169.87" y2="363.40" stroke="#333" stroke-width="0.9"/>
<path d="M168.12 362.90 L171.62 362.90 L170.17 367.00 L169.57 367.00 Z" fill="#000"/>
<line x1="173.65" y1="360.0" x2="173.65" y2="363.40" stroke="#333" stroke-width="0.9"/>
<path d="M171.90 362.90 L175.40 362.90 L173.95 367.00 L173.35 367.00 Z" fill="#000"/>
<line x1="177.43" y1="360.0" x2="177.43" y2="363.40" stroke="#333" stroke-width="0.9"/>
<path d="M175.68 362.90 L179.18 362.90 L177.73 367.00 L177.13 367.00 Z" fill="#000"/>
<line x1="181.21" y1="360.0" x2="181.21" y2="363.40" stroke="#333" stroke-width="0.9"/>
<path d="M179.46 362.90 L182.96 362.90 L181.51 367.00 L180.91 367.00 Z" fill="#000"/>
<line x1="185.00" y1="360.0" x2="185.00" y2="363.40" stroke="#333" stroke-width="0.9"/>
<path d="M183.25 362.90 L186.75 362.90 L185.30 367.00 L184.70 367.00 Z" fill="#000"/>
<line x1="188.78" y1="360.0" x2="188.78" y2="363.40" stroke="#333" stroke-width="0.9"/>
<path d="M187.03 362.90 L190.53 362.90 L189.08 367.00 L188.48 367.00 Z" fill="#000"/>
<line x1="192.56" y1="360.0" x2="192.56" y2="363.40" stroke="#333" stroke-width="0.9"/>
<path d="M190.81 362.90 L194.31 362.90 L192.86 367.00 L192.26 367.00 Z" fill="#000"/>
<line x1="196.34" y1="360.0" x2="196.34" y2="363.40" stroke="#333" stroke-width="0.9"/>
<path d="M194.59 362.90 L198.09 362.90 L196.64 367.00 L196.04 367.00 Z" fill="#000"/>
<line x1="200.12" y1="360.0" x2="200.12" y2="363.40" stroke="#333" stroke-width="0.9"/>
<path d="M198.37 362.90 L201.87 362.90 L200.42 367.00 L199.82 367.00 Z" fill="#000"/>
<line x1="203.91" y1="360.0" x2="203.91" y2="363.40" stroke="#333" stroke-width="0.9"/>
<path d="M202.16 362.90 L205.66 362.90 L204.21 367.00 L203.61 367.00 Z" fill="#000"/>
<line x1="207.69" y1="360.0" x2="207.69" y2="363.40" stroke="#333" stroke-width="0.9"/>
<path d="M205.94 362.90 L209.44 362.90 L207.99 367.00 L207.39 367.00 Z" fill="#000"/>
<line x1="211.47" y1="360.0" x2="211.47" y2="363.40" stroke="#333" stroke-width="0.9"/>
<path d="M209.72 362.90 L213.22 362.90 L211.77 367.00 L211.17 367.00 Z" fill="#000"/>
<line x1="215.25" y1="360.0" x2="215.25" y2="363.40" stroke="#333" stroke-width="0.9"/>
<path d="M213.50 362.90 L217.00 362.90 L215.55 367.00 L214.95 367.00 Z" fill="#000"/>
<line x1="219.03" y1="360.0" x2="219.03" y2="363.40" stroke="#333" stroke-width="0.9"/>
<path d="M217.28 362.90 L220.78 362.90 L219.33 367.00 L218.73 367.00 Z" fill="#000"/>
<line x1="222.82" y1="360.0" x2="222.82" y2="363.40" stroke="#333" stroke-width="0.9"/>
<path d="M221.07 362.90 L224.57 362.90 L223.12 367.00 L222.52 367.00 Z" fill="#000"/>
<line x1="226.60" y1="360.0" x2="226.60" y2="363.40" stroke="#333" stroke-width="0.9"/>
<path d="M224.85 362.90 L228.35 362.90 L226.90 367.00 L226.30 367.00 Z" fill="#000"/>
<line x1="230.38" y1="360.0" x2="230.38" y2="363.40" stroke="#333" stroke-width="0.9"/>
<path d="M228.63 362.90 L232.13 362.90 L230.68 367.00 L230.08 367.00 Z" fill="#000"/>
<line x1="234.16" y1="360.0" x2="234.16" y2="363.40" stroke="#333" stroke-width="0.9"/>
<path d="M232.41 362.90 L235.91 362.90 L234.46 367.00 L233.86 367.00 Z" fill="#000"/>
<line x1="237.94" y1="360.0" x2="237.94" y2="363.40" stroke="#333" stroke-width="0.9"/>
<path d="M236.19 362.90 L239.69 362.90 L238.24 367.00 L237.64 367.00 Z" fill="#000"/>
<line x1="241.73" y1="360.0" x2="241.73" y2="363.40" stroke="#333" stroke-width="0.9"/>
<path d="M239.98 362.90 L243.48 362.90 L242.03 367.00 L241.43 367.00 Z" fill="#000"/>
<line x1="245.51" y1="360.0" x2="245.51" y2="363.40" stroke="#333" stroke-width="0.9"/>
<path d="M243.76 362.90 L247.26 362.90 L245.81 367.00 L245.21 367.00 Z" fill="#000"/>
<line x1="249.29" y1="360.0" x2="249.29" y2="363.40" stroke="#333" stroke-width="0.9"/>
<path d="M247.54 362.90 L251.04 362.90 L249.59 367.00 L248.99 367.00 Z" fill="#000"/>
<line x1="253.07" y1="360.0" x2="253.07" y2="363.40" stroke="#333" stroke-width="0.9"/>
<path d="M251.32 362.90 L254.82 362.90 L253.37 367.00 L252.77 367.00 Z" fill="#000"/>
<line x1="256.85" y1="360.0" x2="256.85" y2="363.40" stroke="#333" stroke-width="0.9"/>
<path d="M255.10 362.90 L258.60 362.90 L257.15 367.00 L256.55 367.00 Z" fill="#000"/>
<line x1="260.64" y1="360.0" x2="260.64" y2="363.40" stroke="#333" stroke-width="0.9"/>
<path d="M258.89 362.90 L262.39 362.90 L260.94 367.00 L260.34 367.00 Z" fill="#000"/>
<line x1="264.42" y1="360.0" x2="264.42" y2="363.40" stroke="#333" stroke-width="0.9"/>
<path d="M262.67 362.90 L266.17 362.90 L264.72 367.00 L264.12 367.00 Z" fill="#000"/>
<line x1="268.20" y1="360.0" x2="268.20" y2="363.40" stroke="#333" stroke-width="0.9"/>
<path d="M266.45 362.90 L269.95 362.90 L268.50 367.00 L267.90 367.00 Z" fill="#000"/>
<line x1="271.98" y1="360.0" x2="271.98" y2="363.40" stroke="#333" stroke-width="0.9"/>
<path d="M270.23 362.90 L273.73 362.90 L272.28 367.00 L271.68 367.00 Z" fill="#000"/>
<line x1="275.76" y1="360.0" x2="275.76" y2="363.40" stroke="#333" stroke-width="0.9"/>
<path d="M274.01 362.90 L277.51 362.90 L276.06 367.00 L275.46 367.00 Z" fill="#000"/>
<line x1="279.55" y1="360.0" x2="279.55" y2="363.40" stroke="#333" stroke-width="0.9"/>
<path d="M277.80 362.90 L281.30 362.90 L279.85 367.00 L279.25 367.00 Z" fill="#000"/>
<line x1="283.33" y1="360.0" x2="283.33" y2="363.40" stroke="#333" stroke-width="0.9"/>
<path d="M281.58 362.90 L285.08 362.90 L283.63 367.00 L283.03 367.00 Z" fill="#000"/>
<line x1="287.11" y1="360.0" x2="287.11" y2="363.40" stroke="#333" stroke-width="0.9"/>
<path d="M285.36 362.90 L288.86 362.90 L287.41 367.00 L286.81 367.00 Z" fill="#000"/>
<line x1="290.89" y1="360.0" x2="290.89" y2="363.40" stroke="#333" stroke-width="0.9"/>
<path d="M289.14 362.90 L292.64 362.90 L291.19 367.00 L290.59 367.00 Z" fill="#000"/>
<line x1="294.67" y1="360.0" x2="294.67" y2="363.40" stroke="#333" stroke-width="0.9"/>
<path d="M292.92 362.90 L296.42 362.90 L294.97 367.00 L294.37 367.00 Z" fill="#000"/>
<line x1="298.46" y1="360.0" x2="298.46" y2="363.40" stroke="#333" stroke-width="0.9"/>
<path d="M296.71 362.90 L300.21 362.90 L298.76 367.00 L298.16 367.00 Z" fill="#000"/>
<line x1="302.24" y1="360.0" x2="302.24" y2="363.40" stroke="#333" stroke-width="0.9"/>
<path d="M300.49 362.90 L303.99 362.90 L302.54 367.00 L301.94 367.00 Z" fill="#000"/>
<line x1="306.02" y1="360.0" x2="306.02" y2="363.40" stroke="#333" stroke-width="0.9"/>
<path d="M304.27 362.90 L307.77 362.90 L306.32 367.00 L305.72 367.00 Z" fill="#000"/>
<line x1="309.80" y1="360.0" x2="309.80" y2="363.40" stroke="#333" stroke-width="0.9"/>
<path d="M308.05 362.90 L311.55 362.90 L310.10 367.00 L309.50 367.00 Z" fill="#000"/>
<line x1="313.58" y1="360.0" x2="313.58" y2="363.40" stroke="#333" stroke-width="0.9"/>
<path d="M311.83 362.90 L315.33 362.90 L313.88 367.00 L313.28 367.00 Z" fill="#000"/>
<line x1="317.37" y1="360.0" x2="317.37" y2="363.40" stroke="#333" stroke-width="0.9"/>
<path d="M315.62 362.90 L319.12 362.90 L317.67 367.00 L317.07 367.00 Z" fill="#000"/>
<line x1="321.15" y1="360.0" x2="321.15" y2="363.40" stroke="#333" stroke-width="0.9"/>
<path d="M319.40 362.90 L322.90 362.90 L321.45 367.00 L320.85 367.00 Z" fill="#000"/>
<line x1="324.93" y1="360.0" x2="324.93" y2="363.40" stroke="#333" stroke-width="0.9"/>
<path d="M323.18 362.90 L326.68 362.90 L325.23 367.00 L324.63 367.00 Z" fill="#000"/>
<line x1="328.71" y1="360.0" x2="328.71" y2="363.40" stroke="#333" stroke-width="0.9"/>
<path d="M326.96 362.90 L330.46 362.90 L329.01 367.00 L328.41 367.00 Z" fill="#000"/>
<line x1="332.49" y1="360.0" x2="332.49" y2="363.40" stroke="#333" stroke-width="0.9"/>
<path d="M330.74 362.90 L334.24 362.90 L332.79 367.00 L332.19 367.00 Z" fill="#000"/>
<line x1="336.28" y1="360.0" x2="336.28" y2="363.40" stroke="#333" stroke-width="0.9"/>
<path d="M334.53 362.90 L338.03 362.90 L336.58 367.00 L335.98 367.00 Z" fill="#000"/>
<line x1="340.06" y1="360.0" x2="340.06" y2="363.40" stroke="#333" stroke-width="0.9"/>
<path d="M338.31 362.90 L341.81 362.90 L340.36 367.00 L339.76 367.00 Z" fill="#000"/>
<line x1="343.84" y1="360.0" x2="343.84" y2="363.40" stroke="#333" stroke-width="0.9"/>
<path d="M342.09 362.90 L345.59 362.90 L344.14 367.00 L343.54 367.00 Z" fill="#000"/>
<line x1="347.62" y1="360.0" x2="347.62" y2="363.40" stroke="#333" stroke-width="0.9"/>
<path d="M345.87 362.90 L349.37 362.90 L347.92 367.00 L347.32 367.00 Z" fill="#000"/>
<line x1="351.40" y1="360.0" x2="351.40" y2="363.40" stroke="#333" stroke-width="0.9"/>
<path d="M349.65 362.90 L353.15 362.90 L351.70 367.00 L351.10 367.00 Z" fill="#000"/>
<line x1="355.19" y1="360.0" x2="355.19" y2="363.40" stroke="#333" stroke-width="0.9"/>
<path d="M353.44 362.90 L356.94 362.90 L355.49 367.00 L354.89 367.00 Z" fill="#000"/>
<line x1="358.97" y1="360.0" x2="358.97" y2="363.40" stroke="#333" stroke-width="0.9"/>
<path d="M357.22 362.90 L360.72 362.90 L359.27 367.00 L358.67 367.00 Z" fill="#000"/>
<line x1="362.75" y1="360.0" x2="362.75" y2="363.40" stroke="#333" stroke-width="0.9"/>
<path d="M361.00 362.90 L364.50 362.90 L363.05 367.00 L362.45 367.00 Z" fill="#000"/>
<line x1="366.53" y1="360.0" x2="366.53" y2="363.40" stroke="#333" stroke-width="0.9"/>
<path d="M364.78 362.90 L368.28 362.90 L366.83 367.00 L366.23 367.00 Z" fill="#000"/>
<line x1="370.31" y1="360.0" x2="370.31" y2="363.40" stroke="#333" stroke-width="0.9"/>
<path d="M368.56 362.90 L372.06 362.90 L370.61 367.00 L370.01 367.00 Z" fill="#000"/>
<line x1="374.10" y1="360.0" x2="374.10" y2="363.40" stroke="#333" stroke-width="0.9"/>
<path d="M372.35 362.90 L375.85 362.90 L374.40 367.00 L373.80 367.00 Z" fill="#000"/>
<line x1="377.88" y1="360.0" x2="377.88" y2="363.40" stroke="#333" stroke-width="0.9"/>
<path d="M376.13 362.90 L379.63 362.90 L378.18 367.00 L377.58 367.00 Z" fill="#000"/>
<line x1="381.66" y1="360.0" x2="381.66" y2="363.40" stroke="#333" stroke-width="0.9"/>
<path d="M379.91 362.90 L383.41 362.90 L381.96 367.00 L381.36 367.00 Z" fill="#000"/>
<line x1="385.44" y1="360.0" x2="385.44" y2="363.40" stroke="#333" stroke-width="0.9"/>
<path d="M383.69 362.90 L387.19 362.90 L385.74 367.00 L385.14 367.00 Z" fill="#000"/>
<line x1="389.22" y1="360.0" x2="389.22" y2="363.40" stroke="#333" stroke-width="0.9"/>
<path d="M387.47 362.90 L390.97 362.90 L389.52 367.00 L388.92 367.00 Z" fill="#000"/>
<line x1="393.01" y1="360.0" x2="393.01" y2="363.40" stroke="#333" stroke-width="0.9"/>
<path d="M391.26 362.90 L394.76 362.90 L393.31 367.00 L392.71 367.00 Z" fill="#000"/>
<line x1="396.79" y1="360.0" x2="396.79" y2="363.40" stroke="#333" stroke-width="0.9"/>
<path d="M395.04 362.90 L398.54 362.90 L397.09 367.00 L396.49 367.00 Z" fill="#000"/>
<line x1="400.57" y1="360.0" x2="400.57" y2="363.40" stroke="#333" stroke-width="0.9"/>
<path d="M398.82 362.90 L402.32 362.90 L400.87 367.00 L400.27 367.00 Z" fill="#000"/>
<line x1="404.35" y1="360.0" x2="404.35" y2="363.40" stroke="#333" stroke-width="0.9"/>
<path d="M402.60 362.90 L406.10 362.90 L404.65 367.00 L404.05 367.00 Z" fill="#000"/>
<line x1="408.13" y1="360.0" x2="408.13" y2="363.40" stroke="#333" stroke-width="0.9"/>
<path d="M406.38 362.90 L409.88 362.90 L408.43 367.00 L407.83 367.00 Z" fill="#000"/>
<line x1="411.92" y1="360.0" x2="411.92" y2="363.40" stroke="#333" stroke-width="0.9"/>
<path d="M410.17 362.90 L413.67 362.90 L412.22 367.00 L411.62 367.00 Z" fill="#000"/>
<line x1="415.70" y1="360.0" x2="415.70" y2="363.40" stroke="#333" stroke-width="0.9"/>
<path d="M413.95 362.90 L417.45 362.90 L416.00 367.00 L415.40 367.00 Z" fill="#000"/>
<line x1="419.48" y1="360.0" x2="419.48" y2="363.40" stroke="#333" stroke-width="0.9"/>
<path d="M417.73 362.90 L421.23 362.90 L419.78 367.00 L419.18 367.00 Z" fill="#000"/>
<line x1="423.26" y1="360.0" x2="423.26" y2="363.40" stroke="#333" stroke-width="0.9"/>
<path d="M421.51 362.90 L425.01 362.90 L423.56 367.00 L422.96 367.00 Z" fill="#000"/>
<line x1="427.04" y1="360.0" x2="427.04" y2="363.40" stroke="#333" stroke-width="0.9"/>
<path d="M425.29 362.90 L428.79 362.90 L427.34 367.00 L426.74 367.00 Z" fill="#000"/>
<line x1="430.83" y1="360.0" x2="430.83" y2="363.40" stroke="#333" stroke-width="0.9"/>
<path d="M429.08 362.90 L432.58 362.90 L431.13 367.00 L430.53 367.00 Z" fill="#000"/>
<line x1="434.61" y1="360.0" x2="434.61" y2="363.40" stroke="#333" stroke-width="0.9"/>
<path d="M432.86 362.90 L436.36 362.90 L434.91 367.00 L434.31 367.00 Z" fill="#000"/>
<line x1="438.39" y1="360.0" x2="438.39" y2="363.40" stroke="#333" stroke-width="0.9"/>
<path d="M436.64 362.90 L440.14 362.90 L438.69 367.00 L438.09 367.00 Z" fill="#000"/>
<rect x="77.0" y="368.6" width="365.00" height="255.90" fill="#000"/>
<rect x="77.0" y="368.6" width="365.00" height="243.40" fill="url(#patB)"/>
<rect x="77.00" y="368.60" width="3.80" height="9.37" fill="#e2923a" stroke="#000" stroke-opacity="0.18" stroke-width="0.6"/>
<rect x="99.81" y="368.60" width="3.80" height="9.37" fill="#e2923a" stroke="#000" stroke-opacity="0.18" stroke-width="0.6"/>
<rect x="122.62" y="368.60" width="3.80" height="9.37" fill="#e2923a" stroke="#000" stroke-opacity="0.18" stroke-width="0.6"/>
<rect x="130.23" y="368.60" width="3.80" height="9.37" fill="#e2923a" stroke="#000" stroke-opacity="0.18" stroke-width="0.6"/>
<rect x="145.44" y="368.60" width="3.80" height="9.37" fill="#e2923a" stroke="#000" stroke-opacity="0.18" stroke-width="0.6"/>
<rect x="156.84" y="368.60" width="3.80" height="9.37" fill="#e2923a" stroke="#000" stroke-opacity="0.18" stroke-width="0.6"/>
<rect x="164.45" y="368.60" width="3.80" height="9.37" fill="#e6a538" stroke="#000" stroke-opacity="0.18" stroke-width="0.6"/>
<rect x="168.25" y="368.60" width="3.80" height="9.37" fill="#e6a538" stroke="#000" stroke-opacity="0.18" stroke-width="0.6"/>
<rect x="187.26" y="368.60" width="3.80" height="9.37" fill="#e2923a" stroke="#000" stroke-opacity="0.18" stroke-width="0.6"/>
<rect x="202.47" y="368.60" width="3.80" height="9.37" fill="#e2923a" stroke="#000" stroke-opacity="0.18" stroke-width="0.6"/>
<rect x="213.88" y="368.60" width="3.80" height="9.37" fill="#e6a538" stroke="#000" stroke-opacity="0.18" stroke-width="0.6"/>
<rect x="232.89" y="368.60" width="3.80" height="9.37" fill="#e2923a" stroke="#000" stroke-opacity="0.18" stroke-width="0.6"/>
<rect x="251.90" y="368.60" width="3.80" height="9.37" fill="#e2923a" stroke="#000" stroke-opacity="0.18" stroke-width="0.6"/>
<rect x="267.10" y="368.60" width="3.80" height="9.37" fill="#e6a538" stroke="#000" stroke-opacity="0.18" stroke-width="0.6"/>
<rect x="293.72" y="368.60" width="3.80" height="9.37" fill="#e6a538" stroke="#000" stroke-opacity="0.18" stroke-width="0.6"/>
<rect x="301.32" y="368.60" width="3.80" height="9.37" fill="#e2923a" stroke="#000" stroke-opacity="0.18" stroke-width="0.6"/>
<rect x="305.12" y="368.60" width="3.80" height="9.37" fill="#e2923a" stroke="#000" stroke-opacity="0.18" stroke-width="0.6"/>
<rect x="308.93" y="368.60" width="3.80" height="9.37" fill="#e2923a" stroke="#000" stroke-opacity="0.18" stroke-width="0.6"/>
<rect x="316.53" y="368.60" width="3.80" height="9.37" fill="#e2923a" stroke="#000" stroke-opacity="0.18" stroke-width="0.6"/>
<rect x="320.33" y="368.60" width="3.80" height="9.37" fill="#e2923a" stroke="#000" stroke-opacity="0.18" stroke-width="0.6"/>
<rect x="327.94" y="368.60" width="3.80" height="9.37" fill="#e2923a" stroke="#000" stroke-opacity="0.18" stroke-width="0.6"/>
<rect x="350.75" y="368.60" width="3.80" height="9.37" fill="#d98c60" stroke="#000" stroke-opacity="0.18" stroke-width="0.6"/>
<rect x="358.35" y="368.60" width="3.80" height="9.37" fill="#e6a538" stroke="#000" stroke-opacity="0.18" stroke-width="0.6"/>
<rect x="99.81" y="377.97" width="3.80" height="9.37" fill="#d98c60" stroke="#000" stroke-opacity="0.18" stroke-width="0.6"/>
<rect x="122.62" y="377.97" width="3.80" height="9.37" fill="#e2923a" stroke="#000" stroke-opacity="0.18" stroke-width="0.6"/>
<rect x="134.03" y="377.97" width="3.80" height="9.37" fill="#d98c60" stroke="#000" stroke-opacity="0.18" stroke-width="0.6"/>
<rect x="145.44" y="377.97" width="3.80" height="9.37" fill="#e2923a" stroke="#000" stroke-opacity="0.18" stroke-width="0.6"/>
<rect x="175.85" y="377.97" width="3.80" height="9.37" fill="#d98c60" stroke="#000" stroke-opacity="0.18" stroke-width="0.6"/>
<rect x="179.66" y="377.97" width="3.80" height="9.37" fill="#d98c60" stroke="#000" stroke-opacity="0.18" stroke-width="0.6"/>
<rect x="210.07" y="377.97" width="3.80" height="9.37" fill="#e2923a" stroke="#000" stroke-opacity="0.18" stroke-width="0.6"/>
<rect x="221.48" y="377.97" width="3.80" height="9.37" fill="#e2923a" stroke="#000" stroke-opacity="0.18" stroke-width="0.6"/>
<rect x="225.28" y="377.97" width="3.80" height="9.37" fill="#e2923a" stroke="#000" stroke-opacity="0.18" stroke-width="0.6"/>
<rect x="229.08" y="377.97" width="3.80" height="9.37" fill="#e2923a" stroke="#000" stroke-opacity="0.18" stroke-width="0.6"/>
<rect x="248.09" y="377.97" width="3.80" height="9.37" fill="#9a6262" stroke="#000" stroke-opacity="0.18" stroke-width="0.6"/>
<rect x="267.10" y="377.97" width="3.80" height="9.37" fill="#e2923a" stroke="#000" stroke-opacity="0.18" stroke-width="0.6"/>
<rect x="301.32" y="377.97" width="3.80" height="9.37" fill="#9a6262" stroke="#000" stroke-opacity="0.18" stroke-width="0.6"/>
<rect x="316.53" y="377.97" width="3.80" height="9.37" fill="#d98c60" stroke="#000" stroke-opacity="0.18" stroke-width="0.6"/>
<rect x="324.14" y="377.97" width="3.80" height="9.37" fill="#e2923a" stroke="#000" stroke-opacity="0.18" stroke-width="0.6"/>
<rect x="331.74" y="377.97" width="3.80" height="9.37" fill="#e2923a" stroke="#000" stroke-opacity="0.18" stroke-width="0.6"/>
<rect x="350.75" y="377.97" width="3.80" height="9.37" fill="#d98c60" stroke="#000" stroke-opacity="0.18" stroke-width="0.6"/>
<rect x="365.96" y="377.97" width="3.80" height="9.37" fill="#d98c60" stroke="#000" stroke-opacity="0.18" stroke-width="0.6"/>
<rect x="84.60" y="387.34" width="3.80" height="9.37" fill="#e6a538" stroke="#000" stroke-opacity="0.18" stroke-width="0.6"/>
<rect x="99.81" y="387.34" width="3.80" height="9.37" fill="#e6a538" stroke="#000" stroke-opacity="0.18" stroke-width="0.6"/>
<rect x="126.43" y="387.34" width="3.80" height="9.37" fill="#e2923a" stroke="#000" stroke-opacity="0.18" stroke-width="0.6"/>
<rect x="141.64" y="387.34" width="3.80" height="9.37" fill="#e2923a" stroke="#000" stroke-opacity="0.18" stroke-width="0.6"/>
<rect x="145.44" y="387.34" width="3.80" height="9.37" fill="#d98c60" stroke="#000" stroke-opacity="0.18" stroke-width="0.6"/>
<rect x="175.85" y="387.34" width="3.80" height="9.37" fill="#d98c60" stroke="#000" stroke-opacity="0.18" stroke-width="0.6"/>
<rect x="183.46" y="387.34" width="3.80" height="9.37" fill="#e6a538" stroke="#000" stroke-opacity="0.18" stroke-width="0.6"/>
<rect x="191.06" y="387.34" width="3.80" height="9.37" fill="#e2923a" stroke="#000" stroke-opacity="0.18" stroke-width="0.6"/>
<rect x="194.86" y="387.34" width="3.80" height="9.37" fill="#e2923a" stroke="#000" stroke-opacity="0.18" stroke-width="0.6"/>
<rect x="198.67" y="387.34" width="3.80" height="9.37" fill="#e2923a" stroke="#000" stroke-opacity="0.18" stroke-width="0.6"/>
<rect x="202.47" y="387.34" width="3.80" height="9.37" fill="#e2923a" stroke="#000" stroke-opacity="0.18" stroke-width="0.6"/>
<rect x="213.88" y="387.34" width="3.80" height="9.37" fill="#e2923a" stroke="#000" stroke-opacity="0.18" stroke-width="0.6"/>
<rect x="225.28" y="387.34" width="3.80" height="9.37" fill="#e2923a" stroke="#000" stroke-opacity="0.18" stroke-width="0.6"/>
<rect x="229.08" y="387.34" width="3.80" height="9.37" fill="#e2923a" stroke="#000" stroke-opacity="0.18" stroke-width="0.6"/>
<rect x="232.89" y="387.34" width="3.80" height="9.37" fill="#e6a538" stroke="#000" stroke-opacity="0.18" stroke-width="0.6"/>
<rect x="236.69" y="387.34" width="3.80" height="9.37" fill="#e6a538" stroke="#000" stroke-opacity="0.18" stroke-width="0.6"/>
<rect x="316.53" y="387.34" width="3.80" height="9.37" fill="#e2923a" stroke="#000" stroke-opacity="0.18" stroke-width="0.6"/>
<rect x="339.34" y="387.34" width="3.80" height="9.37" fill="#d98c60" stroke="#000" stroke-opacity="0.18" stroke-width="0.6"/>
<rect x="343.15" y="387.34" width="3.80" height="9.37" fill="#d98c60" stroke="#000" stroke-opacity="0.18" stroke-width="0.6"/>
<rect x="373.56" y="387.34" width="3.80" height="9.37" fill="#e2923a" stroke="#000" stroke-opacity="0.18" stroke-width="0.6"/>
<rect x="77.00" y="396.71" width="3.80" height="9.37" fill="#e2923a" stroke="#000" stroke-opacity="0.18" stroke-width="0.6"/>
<rect x="80.80" y="396.71" width="3.80" height="9.37" fill="#e2923a" stroke="#000" stroke-opacity="0.18" stroke-width="0.6"/>
<rect x="88.41" y="396.71" width="3.80" height="9.37" fill="#e2923a" stroke="#000" stroke-opacity="0.18" stroke-width="0.6"/>
<rect x="92.21" y="396.71" width="3.80" height="9.37" fill="#e2923a" stroke="#000" stroke-opacity="0.18" stroke-width="0.6"/>
<rect x="99.81" y="396.71" width="3.80" height="9.37" fill="#e2923a" stroke="#000" stroke-opacity="0.18" stroke-width="0.6"/>
<rect x="103.61" y="396.71" width="3.80" height="9.37" fill="#e2923a" stroke="#000" stroke-opacity="0.18" stroke-width="0.6"/>
<rect x="107.42" y="396.71" width="3.80" height="9.37" fill="#e2923a" stroke="#000" stroke-opacity="0.18" stroke-width="0.6"/>
<rect x="111.22" y="396.71" width="3.80" height="9.37" fill="#e2923a" stroke="#000" stroke-opacity="0.18" stroke-width="0.6"/>
<rect x="115.02" y="396.71" width="3.80" height="9.37" fill="#e2923a" stroke="#000" stroke-opacity="0.18" stroke-width="0.6"/>
<rect x="118.82" y="396.71" width="3.80" height="9.37" fill="#e2923a" stroke="#000" stroke-opacity="0.18" stroke-width="0.6"/>
<rect x="122.62" y="396.71" width="3.80" height="9.37" fill="#e2923a" stroke="#000" stroke-opacity="0.18" stroke-width="0.6"/>
<rect x="126.43" y="396.71" width="3.80" height="9.37" fill="#e2923a" stroke="#000" stroke-opacity="0.18" stroke-width="0.6"/>
<rect x="145.44" y="396.71" width="3.80" height="9.37" fill="#d98c60" stroke="#000" stroke-opacity="0.18" stroke-width="0.6"/>
<rect x="156.84" y="396.71" width="3.80" height="9.37" fill="#e2923a" stroke="#000" stroke-opacity="0.18" stroke-width="0.6"/>
<rect x="160.65" y="396.71" width="3.80" height="9.37" fill="#e2923a" stroke="#000" stroke-opacity="0.18" stroke-width="0.6"/>
<rect x="168.25" y="396.71" width="3.80" height="9.37" fill="#e2923a" stroke="#000" stroke-opacity="0.18" stroke-width="0.6"/>
<rect x="175.85" y="396.71" width="3.80" height="9.37" fill="#e2923a" stroke="#000" stroke-opacity="0.18" stroke-width="0.6"/>
<rect x="179.66" y="396.71" width="3.80" height="9.37" fill="#e2923a" stroke="#000" stroke-opacity="0.18" stroke-width="0.6"/>
<rect x="187.26" y="396.71" width="3.80" height="9.37" fill="#d98c60" stroke="#000" stroke-opacity="0.18" stroke-width="0.6"/>
<rect x="206.27" y="396.71" width="3.80" height="9.37" fill="#e2923a" stroke="#000" stroke-opacity="0.18" stroke-width="0.6"/>
<rect x="213.88" y="396.71" width="3.80" height="9.37" fill="#e2923a" stroke="#000" stroke-opacity="0.18" stroke-width="0.6"/>
<rect x="225.28" y="396.71" width="3.80" height="9.37" fill="#e2923a" stroke="#000" stroke-opacity="0.18" stroke-width="0.6"/>
<rect x="240.49" y="396.71" width="3.80" height="9.37" fill="#d98c60" stroke="#000" stroke-opacity="0.18" stroke-width="0.6"/>
<rect x="251.90" y="396.71" width="3.80" height="9.37" fill="#e2923a" stroke="#000" stroke-opacity="0.18" stroke-width="0.6"/>
<rect x="259.50" y="396.71" width="3.80" height="9.37" fill="#e2923a" stroke="#000" stroke-opacity="0.18" stroke-width="0.6"/>
<rect x="267.10" y="396.71" width="3.80" height="9.37" fill="#e2923a" stroke="#000" stroke-opacity="0.18" stroke-width="0.6"/>
<rect x="305.12" y="396.71" width="3.80" height="9.37" fill="#e2923a" stroke="#000" stroke-opacity="0.18" stroke-width="0.6"/>
<rect x="312.73" y="396.71" width="3.80" height="9.37" fill="#e6a538" stroke="#000" stroke-opacity="0.18" stroke-width="0.6"/>
<rect x="316.53" y="396.71" width="3.80" height="9.37" fill="#e6a538" stroke="#000" stroke-opacity="0.18" stroke-width="0.6"/>
<rect x="324.14" y="396.71" width="3.80" height="9.37" fill="#e2923a" stroke="#000" stroke-opacity="0.18" stroke-width="0.6"/>
<rect x="331.74" y="396.71" width="3.80" height="9.37" fill="#d98c60" stroke="#000" stroke-opacity="0.18" stroke-width="0.6"/>
<rect x="354.55" y="396.71" width="3.80" height="9.37" fill="#d98c60" stroke="#000" stroke-opacity="0.18" stroke-width="0.6"/>
<rect x="362.16" y="396.71" width="3.80" height="9.37" fill="#e2923a" stroke="#000" stroke-opacity="0.18" stroke-width="0.6"/>
<rect x="77.00" y="406.08" width="3.80" height="9.37" fill="#e2923a" stroke="#000" stroke-opacity="0.18" stroke-width="0.6"/>
<rect x="99.81" y="406.08" width="3.80" height="9.37" fill="#e2923a" stroke="#000" stroke-opacity="0.18" stroke-width="0.6"/>
<rect x="103.61" y="406.08" width="3.80" height="9.37" fill="#e2923a" stroke="#000" stroke-opacity="0.18" stroke-width="0.6"/>
<rect x="107.42" y="406.08" width="3.80" height="9.37" fill="#e2923a" stroke="#000" stroke-opacity="0.18" stroke-width="0.6"/>
<rect x="111.22" y="406.08" width="3.80" height="9.37" fill="#d98c60" stroke="#000" stroke-opacity="0.18" stroke-width="0.6"/>
<rect x="141.64" y="406.08" width="3.80" height="9.37" fill="#e2923a" stroke="#000" stroke-opacity="0.18" stroke-width="0.6"/>
<rect x="145.44" y="406.08" width="3.80" height="9.37" fill="#e2923a" stroke="#000" stroke-opacity="0.18" stroke-width="0.6"/>
<rect x="149.24" y="406.08" width="3.80" height="9.37" fill="#e2923a" stroke="#000" stroke-opacity="0.18" stroke-width="0.6"/>
<rect x="153.04" y="406.08" width="3.80" height="9.37" fill="#e2923a" stroke="#000" stroke-opacity="0.18" stroke-width="0.6"/>
<rect x="156.84" y="406.08" width="3.80" height="9.37" fill="#e2923a" stroke="#000" stroke-opacity="0.18" stroke-width="0.6"/>
<rect x="160.65" y="406.08" width="3.80" height="9.37" fill="#e2923a" stroke="#000" stroke-opacity="0.18" stroke-width="0.6"/>
<rect x="172.05" y="406.08" width="3.80" height="9.37" fill="#e2923a" stroke="#000" stroke-opacity="0.18" stroke-width="0.6"/>
<rect x="175.85" y="406.08" width="3.80" height="9.37" fill="#e2923a" stroke="#000" stroke-opacity="0.18" stroke-width="0.6"/>
<rect x="179.66" y="406.08" width="3.80" height="9.37" fill="#e2923a" stroke="#000" stroke-opacity="0.18" stroke-width="0.6"/>
<rect x="191.06" y="406.08" width="3.80" height="9.37" fill="#e2923a" stroke="#000" stroke-opacity="0.18" stroke-width="0.6"/>
<rect x="194.86" y="406.08" width="3.80" height="9.37" fill="#e2923a" stroke="#000" stroke-opacity="0.18" stroke-width="0.6"/>
<rect x="198.67" y="406.08" width="3.80" height="9.37" fill="#e2923a" stroke="#000" stroke-opacity="0.18" stroke-width="0.6"/>
<rect x="202.47" y="406.08" width="3.80" height="9.37" fill="#e2923a" stroke="#000" stroke-opacity="0.18" stroke-width="0.6"/>
<rect x="213.88" y="406.08" width="3.80" height="9.37" fill="#e2923a" stroke="#000" stroke-opacity="0.18" stroke-width="0.6"/>
<rect x="217.68" y="406.08" width="3.80" height="9.37" fill="#e2923a" stroke="#000" stroke-opacity="0.18" stroke-width="0.6"/>
<rect x="229.08" y="406.08" width="3.80" height="9.37" fill="#e2923a" stroke="#000" stroke-opacity="0.18" stroke-width="0.6"/>
<rect x="244.29" y="406.08" width="3.80" height="9.37" fill="#e2923a" stroke="#000" stroke-opacity="0.18" stroke-width="0.6"/>
<rect x="248.09" y="406.08" width="3.80" height="9.37" fill="#e2923a" stroke="#000" stroke-opacity="0.18" stroke-width="0.6"/>
<rect x="251.90" y="406.08" width="3.80" height="9.37" fill="#e2923a" stroke="#000" stroke-opacity="0.18" stroke-width="0.6"/>
<rect x="267.10" y="406.08" width="3.80" height="9.37" fill="#e2923a" stroke="#000" stroke-opacity="0.18" stroke-width="0.6"/>
<rect x="293.72" y="406.08" width="3.80" height="9.37" fill="#d98c60" stroke="#000" stroke-opacity="0.18" stroke-width="0.6"/>
<rect x="301.32" y="406.08" width="3.80" height="9.37" fill="#d98c60" stroke="#000" stroke-opacity="0.18" stroke-width="0.6"/>
<rect x="316.53" y="406.08" width="3.80" height="9.37" fill="#e6a538" stroke="#000" stroke-opacity="0.18" stroke-width="0.6"/>
<rect x="320.33" y="406.08" width="3.80" height="9.37" fill="#e6a538" stroke="#000" stroke-opacity="0.18" stroke-width="0.6"/>
<rect x="335.54" y="406.08" width="3.80" height="9.37" fill="#e2923a" stroke="#000" stroke-opacity="0.18" stroke-width="0.6"/>
<rect x="339.34" y="406.08" width="3.80" height="9.37" fill="#e2923a" stroke="#000" stroke-opacity="0.18" stroke-width="0.6"/>
<rect x="343.15" y="406.08" width="3.80" height="9.37" fill="#aa4e7e" stroke="#000" stroke-opacity="0.18" stroke-width="0.6"/>
<rect x="346.95" y="406.08" width="3.80" height="9.37" fill="#e2923a" stroke="#000" stroke-opacity="0.18" stroke-width="0.6"/>
<rect x="362.16" y="406.08" width="3.80" height="9.37" fill="#e2923a" stroke="#000" stroke-opacity="0.18" stroke-width="0.6"/>
<rect x="365.96" y="406.08" width="3.80" height="9.37" fill="#e2923a" stroke="#000" stroke-opacity="0.18" stroke-width="0.6"/>
<rect x="377.36" y="406.08" width="3.80" height="9.37" fill="#e2923a" stroke="#000" stroke-opacity="0.18" stroke-width="0.6"/>
<rect x="381.17" y="406.08" width="3.80" height="9.37" fill="#e2923a" stroke="#000" stroke-opacity="0.18" stroke-width="0.6"/>
<rect x="384.97" y="406.08" width="3.80" height="9.37" fill="#e2923a" stroke="#000" stroke-opacity="0.18" stroke-width="0.6"/>
<rect x="77.00" y="415.45" width="3.80" height="9.37" fill="#e2923a" stroke="#000" stroke-opacity="0.18" stroke-width="0.6"/>
<rect x="80.80" y="415.45" width="3.80" height="9.37" fill="#e2923a" stroke="#000" stroke-opacity="0.18" stroke-width="0.6"/>
<rect x="84.60" y="415.45" width="3.80" height="9.37" fill="#e2923a" stroke="#000" stroke-opacity="0.18" stroke-width="0.6"/>
<rect x="88.41" y="415.45" width="3.80" height="9.37" fill="#e2923a" stroke="#000" stroke-opacity="0.18" stroke-width="0.6"/>
<rect x="92.21" y="415.45" width="3.80" height="9.37" fill="#e2923a" stroke="#000" stroke-opacity="0.18" stroke-width="0.6"/>
<rect x="96.01" y="415.45" width="3.80" height="9.37" fill="#aa4e7e" stroke="#000" stroke-opacity="0.18" stroke-width="0.6"/>
<rect x="99.81" y="415.45" width="3.80" height="9.37" fill="#e2923a" stroke="#000" stroke-opacity="0.18" stroke-width="0.6"/>
<rect x="103.61" y="415.45" width="3.80" height="9.37" fill="#e2923a" stroke="#000" stroke-opacity="0.18" stroke-width="0.6"/>
<rect x="107.42" y="415.45" width="3.80" height="9.37" fill="#e2923a" stroke="#000" stroke-opacity="0.18" stroke-width="0.6"/>
<rect x="111.22" y="415.45" width="3.80" height="9.37" fill="#e2923a" stroke="#000" stroke-opacity="0.18" stroke-width="0.6"/>
<rect x="115.02" y="415.45" width="3.80" height="9.37" fill="#e2923a" stroke="#000" stroke-opacity="0.18" stroke-width="0.6"/>
<rect x="118.82" y="415.45" width="3.80" height="9.37" fill="#e2923a" stroke="#000" stroke-opacity="0.18" stroke-width="0.6"/>
<rect x="122.62" y="415.45" width="3.80" height="9.37" fill="#e2923a" stroke="#000" stroke-opacity="0.18" stroke-width="0.6"/>
<rect x="126.43" y="415.45" width="3.80" height="9.37" fill="#e2923a" stroke="#000" stroke-opacity="0.18" stroke-width="0.6"/>
<rect x="130.23" y="415.45" width="3.80" height="9.37" fill="#e2923a" stroke="#000" stroke-opacity="0.18" stroke-width="0.6"/>
<rect x="134.03" y="415.45" width="3.80" height="9.37" fill="#e2923a" stroke="#000" stroke-opacity="0.18" stroke-width="0.6"/>
<rect x="137.83" y="415.45" width="3.80" height="9.37" fill="#d98c60" stroke="#000" stroke-opacity="0.18" stroke-width="0.6"/>
<rect x="141.64" y="415.45" width="3.80" height="9.37" fill="#e2923a" stroke="#000" stroke-opacity="0.18" stroke-width="0.6"/>
<rect x="80.80" y="424.82" width="3.80" height="9.37" fill="#e2923a" stroke="#000" stroke-opacity="0.18" stroke-width="0.6"/>
<rect x="84.60" y="424.82" width="3.80" height="9.37" fill="#e2923a" stroke="#000" stroke-opacity="0.18" stroke-width="0.6"/>
<rect x="115.02" y="424.82" width="3.80" height="9.37" fill="#d98c60" stroke="#000" stroke-opacity="0.18" stroke-width="0.6"/>
<rect x="134.03" y="424.82" width="3.80" height="9.37" fill="#d98c60" stroke="#000" stroke-opacity="0.18" stroke-width="0.6"/>
<rect x="145.44" y="424.82" width="3.80" height="9.37" fill="#e2923a" stroke="#000" stroke-opacity="0.18" stroke-width="0.6"/>
<rect x="149.24" y="424.82" width="3.80" height="9.37" fill="#e2923a" stroke="#000" stroke-opacity="0.18" stroke-width="0.6"/>
<rect x="153.04" y="424.82" width="3.80" height="9.37" fill="#e2923a" stroke="#000" stroke-opacity="0.18" stroke-width="0.6"/>
<rect x="156.84" y="424.82" width="3.80" height="9.37" fill="#e2923a" stroke="#000" stroke-opacity="0.18" stroke-width="0.6"/>
<rect x="160.65" y="424.82" width="3.80" height="9.37" fill="#e2923a" stroke="#000" stroke-opacity="0.18" stroke-width="0.6"/>
<rect x="164.45" y="424.82" width="3.80" height="9.37" fill="#e2923a" stroke="#000" stroke-opacity="0.18" stroke-width="0.6"/>
<rect x="172.05" y="424.82" width="3.80" height="9.37" fill="#e2923a" stroke="#000" stroke-opacity="0.18" stroke-width="0.6"/>
<rect x="175.85" y="424.82" width="3.80" height="9.37" fill="#e2923a" stroke="#000" stroke-opacity="0.18" stroke-width="0.6"/>
<rect x="179.66" y="424.82" width="3.80" height="9.37" fill="#e2923a" stroke="#000" stroke-opacity="0.18" stroke-width="0.6"/>
<rect x="198.67" y="424.82" width="3.80" height="9.37" fill="#e2923a" stroke="#000" stroke-opacity="0.18" stroke-width="0.6"/>
<rect x="202.47" y="424.82" width="3.80" height="9.37" fill="#e2923a" stroke="#000" stroke-opacity="0.18" stroke-width="0.6"/>
<rect x="221.48" y="424.82" width="3.80" height="9.37" fill="#e2923a" stroke="#000" stroke-opacity="0.18" stroke-width="0.6"/>
<rect x="225.28" y="424.82" width="3.80" height="9.37" fill="#e2923a" stroke="#000" stroke-opacity="0.18" stroke-width="0.6"/>
<rect x="229.08" y="424.82" width="3.80" height="9.37" fill="#e2923a" stroke="#000" stroke-opacity="0.18" stroke-width="0.6"/>
<rect x="244.29" y="424.82" width="3.80" height="9.37" fill="#e2923a" stroke="#000" stroke-opacity="0.18" stroke-width="0.6"/>
<rect x="248.09" y="424.82" width="3.80" height="9.37" fill="#e2923a" stroke="#000" stroke-opacity="0.18" stroke-width="0.6"/>
<rect x="251.90" y="424.82" width="3.80" height="9.37" fill="#e2923a" stroke="#000" stroke-opacity="0.18" stroke-width="0.6"/>
<rect x="259.50" y="424.82" width="3.80" height="9.37" fill="#d98c60" stroke="#000" stroke-opacity="0.18" stroke-width="0.6"/>
<rect x="263.30" y="424.82" width="3.80" height="9.37" fill="#d98c60" stroke="#000" stroke-opacity="0.18" stroke-width="0.6"/>
<rect x="270.91" y="424.82" width="3.80" height="9.37" fill="#aa4e7e" stroke="#000" stroke-opacity="0.18" stroke-width="0.6"/>
<rect x="278.51" y="424.82" width="3.80" height="9.37" fill="#e2923a" stroke="#000" stroke-opacity="0.18" stroke-width="0.6"/>
<rect x="282.31" y="424.82" width="3.80" height="9.37" fill="#e2923a" stroke="#000" stroke-opacity="0.18" stroke-width="0.6"/>
<rect x="286.11" y="424.82" width="3.80" height="9.37" fill="#a030a0" stroke="#000" stroke-opacity="0.18" stroke-width="0.6"/>
<rect x="77.00" y="434.19" width="3.80" height="9.37" fill="#d98c60" stroke="#000" stroke-opacity="0.18" stroke-width="0.6"/>
<rect x="107.42" y="434.19" width="3.80" height="9.37" fill="#d98c60" stroke="#000" stroke-opacity="0.18" stroke-width="0.6"/>
<rect x="111.22" y="434.19" width="3.80" height="9.37" fill="#aa4e7e" stroke="#000" stroke-opacity="0.18" stroke-width="0.6"/>
<rect x="115.02" y="434.19" width="3.80" height="9.37" fill="#d98c60" stroke="#000" stroke-opacity="0.18" stroke-width="0.6"/>
<rect x="153.04" y="434.19" width="3.80" height="9.37" fill="#d98c60" stroke="#000" stroke-opacity="0.18" stroke-width="0.6"/>
<rect x="168.25" y="434.19" width="3.80" height="9.37" fill="#d98c60" stroke="#000" stroke-opacity="0.18" stroke-width="0.6"/>
<rect x="225.28" y="434.19" width="3.80" height="9.37" fill="#d98c60" stroke="#000" stroke-opacity="0.18" stroke-width="0.6"/>
<rect x="248.09" y="434.19" width="3.80" height="9.37" fill="#e2923a" stroke="#000" stroke-opacity="0.18" stroke-width="0.6"/>
<rect x="263.30" y="434.19" width="3.80" height="9.37" fill="#e2923a" stroke="#000" stroke-opacity="0.18" stroke-width="0.6"/>
<rect x="270.91" y="434.19" width="3.80" height="9.37" fill="#c8664c" stroke="#000" stroke-opacity="0.18" stroke-width="0.6"/>
<rect x="274.71" y="434.19" width="3.80" height="9.37" fill="#c8664c" stroke="#000" stroke-opacity="0.18" stroke-width="0.6"/>
<rect x="77.00" y="443.56" width="3.80" height="9.37" fill="#e2923a" stroke="#000" stroke-opacity="0.18" stroke-width="0.6"/>
<rect x="80.80" y="443.56" width="3.80" height="9.37" fill="#e2923a" stroke="#000" stroke-opacity="0.18" stroke-width="0.6"/>
<rect x="84.60" y="443.56" width="3.80" height="9.37" fill="#e2923a" stroke="#000" stroke-opacity="0.18" stroke-width="0.6"/>
<rect x="88.41" y="443.56" width="3.80" height="9.37" fill="#e2923a" stroke="#000" stroke-opacity="0.18" stroke-width="0.6"/>
<rect x="92.21" y="443.56" width="3.80" height="9.37" fill="#e2923a" stroke="#000" stroke-opacity="0.18" stroke-width="0.6"/>
<rect x="96.01" y="443.56" width="3.80" height="9.37" fill="#e2923a" stroke="#000" stroke-opacity="0.18" stroke-width="0.6"/>
<rect x="149.24" y="443.56" width="3.80" height="9.37" fill="#d98c60" stroke="#000" stroke-opacity="0.18" stroke-width="0.6"/>
<rect x="160.65" y="443.56" width="3.80" height="9.37" fill="#d98c60" stroke="#000" stroke-opacity="0.18" stroke-width="0.6"/>
<rect x="164.45" y="443.56" width="3.80" height="9.37" fill="#d98c60" stroke="#000" stroke-opacity="0.18" stroke-width="0.6"/>
<rect x="168.25" y="443.56" width="3.80" height="9.37" fill="#d98c60" stroke="#000" stroke-opacity="0.18" stroke-width="0.6"/>
<rect x="183.46" y="443.56" width="3.80" height="9.37" fill="#d98c60" stroke="#000" stroke-opacity="0.18" stroke-width="0.6"/>
<rect x="187.26" y="443.56" width="3.80" height="9.37" fill="#d98c60" stroke="#000" stroke-opacity="0.18" stroke-width="0.6"/>
<rect x="191.06" y="443.56" width="3.80" height="9.37" fill="#d98c60" stroke="#000" stroke-opacity="0.18" stroke-width="0.6"/>
<rect x="194.86" y="443.56" width="3.80" height="9.37" fill="#d98c60" stroke="#000" stroke-opacity="0.18" stroke-width="0.6"/>
<rect x="198.67" y="443.56" width="3.80" height="9.37" fill="#d98c60" stroke="#000" stroke-opacity="0.18" stroke-width="0.6"/>
<rect x="202.47" y="443.56" width="3.80" height="9.37" fill="#d98c60" stroke="#000" stroke-opacity="0.18" stroke-width="0.6"/>
<rect x="206.27" y="443.56" width="3.80" height="9.37" fill="#d98c60" stroke="#000" stroke-opacity="0.18" stroke-width="0.6"/>
<rect x="210.07" y="443.56" width="3.80" height="9.37" fill="#d98c60" stroke="#000" stroke-opacity="0.18" stroke-width="0.6"/>
<rect x="213.88" y="443.56" width="3.80" height="9.37" fill="#d98c60" stroke="#000" stroke-opacity="0.18" stroke-width="0.6"/>
<rect x="217.68" y="443.56" width="3.80" height="9.37" fill="#d98c60" stroke="#000" stroke-opacity="0.18" stroke-width="0.6"/>
<rect x="221.48" y="443.56" width="3.80" height="9.37" fill="#d98c60" stroke="#000" stroke-opacity="0.18" stroke-width="0.6"/>
<rect x="232.89" y="443.56" width="3.80" height="9.37" fill="#d98c60" stroke="#000" stroke-opacity="0.18" stroke-width="0.6"/>
<rect x="236.69" y="443.56" width="3.80" height="9.37" fill="#d98c60" stroke="#000" stroke-opacity="0.18" stroke-width="0.6"/>
<rect x="240.49" y="443.56" width="3.80" height="9.37" fill="#d98c60" stroke="#000" stroke-opacity="0.18" stroke-width="0.6"/>
<rect x="244.29" y="443.56" width="3.80" height="9.37" fill="#d98c60" stroke="#000" stroke-opacity="0.18" stroke-width="0.6"/>
<rect x="255.70" y="443.56" width="3.80" height="9.37" fill="#d98c60" stroke="#000" stroke-opacity="0.18" stroke-width="0.6"/>
<rect x="267.10" y="443.56" width="3.80" height="9.37" fill="#d98c60" stroke="#000" stroke-opacity="0.18" stroke-width="0.6"/>
<rect x="278.51" y="443.56" width="3.80" height="9.37" fill="#d98c60" stroke="#000" stroke-opacity="0.18" stroke-width="0.6"/>
<rect x="286.11" y="443.56" width="3.80" height="9.37" fill="#d98c60" stroke="#000" stroke-opacity="0.18" stroke-width="0.6"/>
<rect x="289.92" y="452.93" width="3.80" height="9.37" fill="#d98c60" stroke="#000" stroke-opacity="0.18" stroke-width="0.6"/>
<rect x="377.36" y="565.37" width="3.80" height="9.37" fill="#d98c60" stroke="#000" stroke-opacity="0.18" stroke-width="0.6"/>
<rect x="411.58" y="565.37" width="3.80" height="9.37" fill="#cf8a34" stroke="#000" stroke-opacity="0.18" stroke-width="0.6"/>
<rect x="415.39" y="565.37" width="3.80" height="9.37" fill="#cf8a34" stroke="#000" stroke-opacity="0.18" stroke-width="0.6"/>
<rect x="263.30" y="574.74" width="3.80" height="9.37" fill="#d98c60" stroke="#000" stroke-opacity="0.18" stroke-width="0.6"/>
<rect x="411.58" y="574.74" width="3.80" height="9.37" fill="#f2d23a" stroke="#000" stroke-opacity="0.18" stroke-width="0.6"/>
<rect x="415.39" y="574.74" width="3.80" height="9.37" fill="#f2d23a" stroke="#000" stroke-opacity="0.18" stroke-width="0.6"/>
<rect x="202.47" y="602.85" width="3.80" height="9.37" fill="#d09a88" stroke="#000" stroke-opacity="0.18" stroke-width="0.6"/>
<rect x="77.00" y="612.00" width="3.80" height="11.70" fill="#e9a42c" stroke="#6a4010" stroke-opacity="0.35" stroke-width="0.6"/>
<rect x="80.80" y="612.00" width="3.80" height="11.70" fill="#eca92e" stroke="#6a4010" stroke-opacity="0.35" stroke-width="0.6"/>
<rect x="84.60" y="612.00" width="3.80" height="11.70" fill="#eca92e" stroke="#6a4010" stroke-opacity="0.35" stroke-width="0.6"/>
<rect x="88.41" y="612.00" width="3.80" height="11.70" fill="#e39628" stroke="#6a4010" stroke-opacity="0.35" stroke-width="0.6"/>
<rect x="92.21" y="612.00" width="3.80" height="11.70" fill="#e9a42c" stroke="#6a4010" stroke-opacity="0.35" stroke-width="0.6"/>
<rect x="96.01" y="612.00" width="3.80" height="11.70" fill="#86206a" stroke="#6a4010" stroke-opacity="0.35" stroke-width="0.6"/>
<rect x="99.81" y="612.00" width="3.80" height="11.70" fill="#e9a42c" stroke="#6a4010" stroke-opacity="0.35" stroke-width="0.6"/>
<rect x="103.61" y="612.00" width="3.80" height="11.70" fill="#e39628" stroke="#6a4010" stroke-opacity="0.35" stroke-width="0.6"/>
<rect x="107.42" y="612.00" width="3.80" height="11.70" fill="#dc8a2a" stroke="#6a4010" stroke-opacity="0.35" stroke-width="0.6"/>
<rect x="111.22" y="612.00" width="3.80" height="11.70" fill="#e9a42c" stroke="#6a4010" stroke-opacity="0.35" stroke-width="0.6"/>
<rect x="115.02" y="612.00" width="3.80" height="11.70" fill="#e39628" stroke="#6a4010" stroke-opacity="0.35" stroke-width="0.6"/>
<rect x="118.82" y="612.00" width="3.80" height="11.70" fill="#eaa82d" stroke="#6a4010" stroke-opacity="0.35" stroke-width="0.6"/>
<rect x="122.62" y="612.00" width="3.80" height="11.70" fill="#eba62e" stroke="#6a4010" stroke-opacity="0.35" stroke-width="0.6"/>
<rect x="126.43" y="612.00" width="3.80" height="11.70" fill="#e9a42c" stroke="#6a4010" stroke-opacity="0.35" stroke-width="0.6"/>
<rect x="130.23" y="612.00" width="3.80" height="11.70" fill="#e9a42c" stroke="#6a4010" stroke-opacity="0.35" stroke-width="0.6"/>
<rect x="134.03" y="612.00" width="3.80" height="11.70" fill="#eba62e" stroke="#6a4010" stroke-opacity="0.35" stroke-width="0.6"/>
<rect x="137.83" y="612.00" width="3.80" height="11.70" fill="#e59a2a" stroke="#6a4010" stroke-opacity="0.35" stroke-width="0.6"/>
<rect x="141.64" y="612.00" width="3.80" height="11.70" fill="#dc8a2a" stroke="#6a4010" stroke-opacity="0.35" stroke-width="0.6"/>
<rect x="145.44" y="612.00" width="3.80" height="11.70" fill="#eca92e" stroke="#6a4010" stroke-opacity="0.35" stroke-width="0.6"/>
<rect x="149.24" y="612.00" width="3.80" height="11.70" fill="#e9a42c" stroke="#6a4010" stroke-opacity="0.35" stroke-width="0.6"/>
<rect x="153.04" y="612.00" width="3.80" height="11.70" fill="#e9a42c" stroke="#6a4010" stroke-opacity="0.35" stroke-width="0.6"/>
<rect x="156.84" y="612.00" width="3.80" height="11.70" fill="#efb232" stroke="#6a4010" stroke-opacity="0.35" stroke-width="0.6"/>
<rect x="160.65" y="612.00" width="3.80" height="11.70" fill="#e39628" stroke="#6a4010" stroke-opacity="0.35" stroke-width="0.6"/>
<rect x="164.45" y="612.00" width="3.80" height="11.70" fill="#e59a2a" stroke="#6a4010" stroke-opacity="0.35" stroke-width="0.6"/>
<rect x="168.25" y="612.00" width="3.80" height="11.70" fill="#efb232" stroke="#6a4010" stroke-opacity="0.35" stroke-width="0.6"/>
<rect x="172.05" y="612.00" width="3.80" height="11.70" fill="#eaa82d" stroke="#6a4010" stroke-opacity="0.35" stroke-width="0.6"/>
<rect x="175.85" y="612.00" width="3.80" height="11.70" fill="#eaa82d" stroke="#6a4010" stroke-opacity="0.35" stroke-width="0.6"/>
<rect x="179.66" y="612.00" width="3.80" height="11.70" fill="#e9a42c" stroke="#6a4010" stroke-opacity="0.35" stroke-width="0.6"/>
<rect x="183.46" y="612.00" width="3.80" height="11.70" fill="#eca92e" stroke="#6a4010" stroke-opacity="0.35" stroke-width="0.6"/>
<rect x="187.26" y="612.00" width="3.80" height="11.70" fill="#e59a2a" stroke="#6a4010" stroke-opacity="0.35" stroke-width="0.6"/>
<rect x="191.06" y="612.00" width="3.80" height="11.70" fill="#e9a42c" stroke="#6a4010" stroke-opacity="0.35" stroke-width="0.6"/>
<rect x="194.86" y="612.00" width="3.80" height="11.70" fill="#eaa82d" stroke="#6a4010" stroke-opacity="0.35" stroke-width="0.6"/>
<rect x="198.67" y="612.00" width="3.80" height="11.70" fill="#f0b433" stroke="#6a4010" stroke-opacity="0.35" stroke-width="0.6"/>
<rect x="202.47" y="612.00" width="3.80" height="11.70" fill="#e39628" stroke="#6a4010" stroke-opacity="0.35" stroke-width="0.6"/>
<rect x="206.27" y="612.00" width="3.80" height="11.70" fill="#e59a2a" stroke="#6a4010" stroke-opacity="0.35" stroke-width="0.6"/>
<rect x="210.07" y="612.00" width="3.80" height="11.70" fill="#eaa82d" stroke="#6a4010" stroke-opacity="0.35" stroke-width="0.6"/>
<rect x="213.88" y="612.00" width="3.80" height="11.70" fill="#f0b433" stroke="#6a4010" stroke-opacity="0.35" stroke-width="0.6"/>
<rect x="217.68" y="612.00" width="3.80" height="11.70" fill="#e39628" stroke="#6a4010" stroke-opacity="0.35" stroke-width="0.6"/>
<rect x="221.48" y="612.00" width="3.80" height="11.70" fill="#eaa82d" stroke="#6a4010" stroke-opacity="0.35" stroke-width="0.6"/>
<rect x="225.28" y="612.00" width="3.80" height="11.70" fill="#eba62e" stroke="#6a4010" stroke-opacity="0.35" stroke-width="0.6"/>
<rect x="229.08" y="612.00" width="3.80" height="11.70" fill="#eaa82d" stroke="#6a4010" stroke-opacity="0.35" stroke-width="0.6"/>
<rect x="232.89" y="612.00" width="3.80" height="11.70" fill="#efb232" stroke="#6a4010" stroke-opacity="0.35" stroke-width="0.6"/>
<rect x="236.69" y="612.00" width="3.80" height="11.70" fill="#e59a2a" stroke="#6a4010" stroke-opacity="0.35" stroke-width="0.6"/>
<rect x="240.49" y="612.00" width="3.80" height="11.70" fill="#eca92e" stroke="#6a4010" stroke-opacity="0.35" stroke-width="0.6"/>
<rect x="244.29" y="612.00" width="3.80" height="11.70" fill="#e59a2a" stroke="#6a4010" stroke-opacity="0.35" stroke-width="0.6"/>
<rect x="248.09" y="612.00" width="3.80" height="11.70" fill="#e59a2a" stroke="#6a4010" stroke-opacity="0.35" stroke-width="0.6"/>
<rect x="251.90" y="612.00" width="3.80" height="11.70" fill="#efb232" stroke="#6a4010" stroke-opacity="0.35" stroke-width="0.6"/>
<rect x="255.70" y="612.00" width="3.80" height="11.70" fill="#efb232" stroke="#6a4010" stroke-opacity="0.35" stroke-width="0.6"/>
<rect x="259.50" y="612.00" width="3.80" height="11.70" fill="#e9a42c" stroke="#6a4010" stroke-opacity="0.35" stroke-width="0.6"/>
<rect x="263.30" y="612.00" width="3.80" height="11.70" fill="#e9a42c" stroke="#6a4010" stroke-opacity="0.35" stroke-width="0.6"/>
<rect x="267.10" y="612.00" width="3.80" height="11.70" fill="#dc8a2a" stroke="#6a4010" stroke-opacity="0.35" stroke-width="0.6"/>
<rect x="270.91" y="612.00" width="3.80" height="11.70" fill="#e59a2a" stroke="#6a4010" stroke-opacity="0.35" stroke-width="0.6"/>
<rect x="274.71" y="612.00" width="3.80" height="11.70" fill="#e39628" stroke="#6a4010" stroke-opacity="0.35" stroke-width="0.6"/>
<rect x="278.51" y="612.00" width="3.80" height="11.70" fill="#e39628" stroke="#6a4010" stroke-opacity="0.35" stroke-width="0.6"/>
<rect x="282.31" y="612.00" width="3.80" height="11.70" fill="#e9a42c" stroke="#6a4010" stroke-opacity="0.35" stroke-width="0.6"/>
<rect x="286.11" y="612.00" width="3.80" height="11.70" fill="#e59a2a" stroke="#6a4010" stroke-opacity="0.35" stroke-width="0.6"/>
<rect x="289.92" y="612.00" width="3.80" height="11.70" fill="#eaa82d" stroke="#6a4010" stroke-opacity="0.35" stroke-width="0.6"/>
<rect x="293.72" y="612.00" width="3.80" height="11.70" fill="#f0b433" stroke="#6a4010" stroke-opacity="0.35" stroke-width="0.6"/>
<rect x="297.52" y="612.00" width="3.80" height="11.70" fill="#eba62e" stroke="#6a4010" stroke-opacity="0.35" stroke-width="0.6"/>
<rect x="301.32" y="612.00" width="3.80" height="11.70" fill="#dc8a2a" stroke="#6a4010" stroke-opacity="0.35" stroke-width="0.6"/>
<rect x="305.12" y="612.00" width="3.80" height="11.70" fill="#dc8a2a" stroke="#6a4010" stroke-opacity="0.35" stroke-width="0.6"/>
<rect x="308.93" y="612.00" width="3.80" height="11.70" fill="#eba62e" stroke="#6a4010" stroke-opacity="0.35" stroke-width="0.6"/>
<rect x="312.73" y="612.00" width="3.80" height="11.70" fill="#e59a2a" stroke="#6a4010" stroke-opacity="0.35" stroke-width="0.6"/>
<rect x="316.53" y="612.00" width="3.80" height="11.70" fill="#f0b433" stroke="#6a4010" stroke-opacity="0.35" stroke-width="0.6"/>
<rect x="320.33" y="612.00" width="3.80" height="11.70" fill="#dc8a2a" stroke="#6a4010" stroke-opacity="0.35" stroke-width="0.6"/>
<rect x="324.14" y="612.00" width="3.80" height="11.70" fill="#e9a42c" stroke="#6a4010" stroke-opacity="0.35" stroke-width="0.6"/>
<rect x="327.94" y="612.00" width="3.80" height="11.70" fill="#e9a42c" stroke="#6a4010" stroke-opacity="0.35" stroke-width="0.6"/>
<rect x="331.74" y="612.00" width="3.80" height="11.70" fill="#f0b433" stroke="#6a4010" stroke-opacity="0.35" stroke-width="0.6"/>
<rect x="335.54" y="612.00" width="3.80" height="11.70" fill="#eaa82d" stroke="#6a4010" stroke-opacity="0.35" stroke-width="0.6"/>
<rect x="339.34" y="612.00" width="3.80" height="11.70" fill="#eaa82d" stroke="#6a4010" stroke-opacity="0.35" stroke-width="0.6"/>
<rect x="343.15" y="612.00" width="3.80" height="11.70" fill="#eaa82d" stroke="#6a4010" stroke-opacity="0.35" stroke-width="0.6"/>
<rect x="346.95" y="612.00" width="3.80" height="11.70" fill="#eaa82d" stroke="#6a4010" stroke-opacity="0.35" stroke-width="0.6"/>
<rect x="350.75" y="612.00" width="3.80" height="11.70" fill="#eca92e" stroke="#6a4010" stroke-opacity="0.35" stroke-width="0.6"/>
<rect x="354.55" y="612.00" width="3.80" height="11.70" fill="#e9a42c" stroke="#6a4010" stroke-opacity="0.35" stroke-width="0.6"/>
<rect x="358.35" y="612.00" width="3.80" height="11.70" fill="#eaa82d" stroke="#6a4010" stroke-opacity="0.35" stroke-width="0.6"/>
<rect x="362.16" y="612.00" width="3.80" height="11.70" fill="#e9a42c" stroke="#6a4010" stroke-opacity="0.35" stroke-width="0.6"/>
<rect x="365.96" y="612.00" width="3.80" height="11.70" fill="#efb232" stroke="#6a4010" stroke-opacity="0.35" stroke-width="0.6"/>
<rect x="369.76" y="612.00" width="3.80" height="11.70" fill="#eca92e" stroke="#6a4010" stroke-opacity="0.35" stroke-width="0.6"/>
<rect x="373.56" y="612.00" width="3.80" height="11.70" fill="#efb232" stroke="#6a4010" stroke-opacity="0.35" stroke-width="0.6"/>
<rect x="377.36" y="612.00" width="3.80" height="11.70" fill="#e9a42c" stroke="#6a4010" stroke-opacity="0.35" stroke-width="0.6"/>
<rect x="381.17" y="612.00" width="3.80" height="11.70" fill="#e59a2a" stroke="#6a4010" stroke-opacity="0.35" stroke-width="0.6"/>
<rect x="384.97" y="612.00" width="3.80" height="11.70" fill="#eca92e" stroke="#6a4010" stroke-opacity="0.35" stroke-width="0.6"/>
<rect x="388.77" y="612.00" width="3.80" height="11.70" fill="#eba62e" stroke="#6a4010" stroke-opacity="0.35" stroke-width="0.6"/>
<rect x="392.57" y="612.00" width="3.80" height="11.70" fill="#dc8a2a" stroke="#6a4010" stroke-opacity="0.35" stroke-width="0.6"/>
<rect x="396.38" y="612.00" width="3.80" height="11.70" fill="#e9a42c" stroke="#6a4010" stroke-opacity="0.35" stroke-width="0.6"/>
<rect x="400.18" y="612.00" width="3.80" height="11.70" fill="#eca92e" stroke="#6a4010" stroke-opacity="0.35" stroke-width="0.6"/>
<rect x="403.98" y="612.00" width="3.80" height="11.70" fill="#e9a42c" stroke="#6a4010" stroke-opacity="0.35" stroke-width="0.6"/>
<rect x="407.78" y="612.00" width="3.80" height="11.70" fill="#dc8a2a" stroke="#6a4010" stroke-opacity="0.35" stroke-width="0.6"/>
<rect x="411.58" y="612.00" width="3.80" height="11.70" fill="#e59a2a" stroke="#6a4010" stroke-opacity="0.35" stroke-width="0.6"/>
<rect x="415.39" y="612.00" width="3.80" height="11.70" fill="#f0b433" stroke="#6a4010" stroke-opacity="0.35" stroke-width="0.6"/>
<rect x="419.19" y="612.00" width="3.80" height="11.70" fill="#eca92e" stroke="#6a4010" stroke-opacity="0.35" stroke-width="0.6"/>
<rect x="422.99" y="612.00" width="3.80" height="11.70" fill="#eba62e" stroke="#6a4010" stroke-opacity="0.35" stroke-width="0.6"/>
<rect x="426.79" y="612.00" width="3.80" height="11.70" fill="#dc8a2a" stroke="#6a4010" stroke-opacity="0.35" stroke-width="0.6"/>
<rect x="430.59" y="612.00" width="3.80" height="11.70" fill="#e9a42c" stroke="#6a4010" stroke-opacity="0.35" stroke-width="0.6"/>
<rect x="434.40" y="612.00" width="3.80" height="11.70" fill="#eca92e" stroke="#6a4010" stroke-opacity="0.35" stroke-width="0.6"/>
<rect x="438.20" y="612.00" width="3.80" height="11.70" fill="#efb232" stroke="#6a4010" stroke-opacity="0.35" stroke-width="0.6"/>
<rect x="77.0" y="623.60" width="365.00" height="0.9" fill="#3a2a10"/>
<text x="43.0" y="377.70" class="gl">ENG</text>
<text x="43.0" y="387.07" class="gl">HBA1</text>
<text x="43.0" y="396.44" class="gl">EPOR</text>
<text x="43.0" y="405.81" class="gl">TFR2</text>
<text x="43.0" y="415.18" class="gl">AHSP</text>
<text x="43.0" y="424.55" class="gl">KLF1</text>
<text x="43.0" y="433.92" class="gl">GFI1B</text>
<text x="43.0" y="443.29" class="gl">MKL1</text>
<text x="43.0" y="452.66" class="gl">NFE2</text>
<text x="43.0" y="462.03" class="gl">FLI1</text>
<text x="43.0" y="471.40" class="gl">MPL</text>
<text x="43.0" y="480.77" class="gl">ITGA2</text>
<text x="43.0" y="490.14" class="gl">ITGB3</text>
<text x="43.0" y="499.51" class="gl">ITGA2B</text>
<text x="43.0" y="508.88" class="gl">TBXA2R</text>
<text x="43.0" y="518.25" class="gl">SELP</text>
<text x="43.0" y="527.62" class="gl">VWF</text>
<text x="43.0" y="536.99" class="gl">CD226</text>
<text x="43.0" y="546.36" class="gl">CD9</text>
<text x="43.0" y="555.73" class="gl">GP9</text>
<text x="43.0" y="565.10" class="gl">PPBP</text>
<text x="43.0" y="574.47" class="gl">AZU1</text>
<text x="43.0" y="583.84" class="gl">CTSG</text>
<text x="43.0" y="593.21" class="gl">CSF3R</text>
<text x="43.0" y="602.58" class="gl">GFI1</text>
<text x="43.0" y="611.95" class="gl">IRF8</text>
<text x="43.0" y="621.32" class="gl">GAPDH</text>
<rect x="29.5" y="371" width="4.6" height="80.4" fill="#d9847c"/>
<rect x="35.6" y="426.6" width="4.9" height="137.1" fill="#e6aa45"/>
<rect x="30.7" y="566.6" width="9.5" height="45.5" fill="#80bbe6"/>
<text transform="translate(16.0,411.9) rotate(90)" text-anchor="middle" font-size="14.7" fill="#b8402a" stroke="#b8402a" stroke-width="0.45" class="grp">Ery</text>
<text transform="translate(21.0,495.5) rotate(90)" text-anchor="middle" font-size="14.7" fill="#cc6a2a" stroke="#cc6a2a" stroke-width="0.45" class="grp">Meg</text>
<text transform="translate(15.4,589.4) rotate(90)" text-anchor="middle" font-size="14.7" fill="#88bcdc" stroke="#88bcdc" stroke-width="0.45" class="grp">GM</text>
<rect x="76.2" y="368.9" width="314.3" height="85.7" fill="none" stroke="#df5e36" stroke-width="1.8"/>
<text x="464.9" y="374.1" class="ctv">Ct value</text>
<rect x="466" y="378.6" width="42" height="212.66" fill="#555"/>
<rect x="475" y="379.60" width="32.4" height="8.63" fill="#d4d4d4"/>
<rect x="466.8" y="379.60" width="8" height="8.63" fill="#000000"/>
<text x="479.6" y="386.20" class="lt">&lt;1.00</text>
<rect x="475" y="389.23" width="32.4" height="8.63" fill="#d4d4d4"/>
<rect x="466.8" y="389.23" width="8" height="8.63" fill="#f4ee3a"/>
<text x="479.6" y="395.83" class="lt">&lt;2.95</text>
<rect x="475" y="398.86" width="32.4" height="8.63" fill="#d4d4d4"/>
<rect x="466.8" y="398.86" width="8" height="8.63" fill="#f4dc2c"/>
<text x="479.6" y="405.46" class="lt">3.93</text>
<rect x="475" y="408.49" width="32.4" height="8.63" fill="#d4d4d4"/>
<rect x="466.8" y="408.49" width="8" height="8.63" fill="#f2d02c"/>
<text x="479.6" y="415.09" class="lt">5.88</text>
<rect x="475" y="418.12" width="32.4" height="8.63" fill="#d4d4d4"/>
<rect x="466.8" y="418.12" width="8" height="8.63" fill="#f0c82e"/>
<text x="479.6" y="424.72" class="lt">7.83</text>
<rect x="475" y="427.75" width="32.4" height="8.63" fill="#d4d4d4"/>
<rect x="466.8" y="427.75" width="8" height="8.63" fill="#eec032"/>
<text x="479.6" y="434.35" class="lt">9.78</text>
<rect x="475" y="437.38" width="32.4" height="8.63" fill="#d4d4d4"/>
<rect x="466.8" y="437.38" width="8" height="8.63" fill="#ecb830"/>
<text x="479.6" y="443.98" class="lt">11.73</text>
<rect x="475" y="447.01" width="32.4" height="8.63" fill="#d4d4d4"/>
<rect x="466.8" y="447.01" width="8" height="8.63" fill="#eaac2e"/>
<text x="479.6" y="453.61" class="lt">13.68</text>
<rect x="475" y="456.64" width="32.4" height="8.63" fill="#d4d4d4"/>
<rect x="466.8" y="456.64" width="8" height="8.63" fill="#e6a030"/>
<text x="479.6" y="463.24" class="lt">15.63</text>
<rect x="475" y="466.27" width="32.4" height="8.63" fill="#d4d4d4"/>
<rect x="466.8" y="466.27" width="8" height="8.63" fill="#de7a2a"/>
<text x="479.6" y="472.87" class="lt">17.58</text>
<rect x="475" y="475.90" width="32.4" height="8.63" fill="#d4d4d4"/>
<rect x="466.8" y="475.90" width="8" height="8.63" fill="#d8622e"/>
<text x="479.6" y="482.50" class="lt">19.53</text>
<rect x="475" y="485.53" width="32.4" height="8.63" fill="#d4d4d4"/>
<rect x="466.8" y="485.53" width="8" height="8.63" fill="#c24a4a"/>
<text x="479.6" y="492.13" class="lt">21.48</text>
<rect x="475" y="495.16" width="32.4" height="8.63" fill="#d4d4d4"/>
<rect x="466.8" y="495.16" width="8" height="8.63" fill="#a8305e"/>
<text x="479.6" y="501.76" class="lt">23.43</text>
<rect x="475" y="504.79" width="32.4" height="8.63" fill="#d4d4d4"/>
<rect x="466.8" y="504.79" width="8" height="8.63" fill="#901a78"/>
<text x="479.6" y="511.39" class="lt">25.38</text>
<rect x="475" y="514.42" width="32.4" height="8.63" fill="#d4d4d4"/>
<rect x="466.8" y="514.42" width="8" height="8.63" fill="#7a1090"/>
<text x="479.6" y="521.02" class="lt">27.33</text>
<rect x="475" y="524.05" width="32.4" height="8.63" fill="#d4d4d4"/>
<rect x="466.8" y="524.05" width="8" height="8.63" fill="#6a10a0"/>
<text x="479.6" y="530.65" class="lt">29.28</text>
<rect x="475" y="533.68" width="32.4" height="8.63" fill="#d4d4d4"/>
<rect x="466.8" y="533.68" width="8" height="8.63" fill="#5410a0"/>
<text x="479.6" y="540.28" class="lt">31.23</text>
<rect x="475" y="543.31" width="32.4" height="8.63" fill="#d4d4d4"/>
<rect x="466.8" y="543.31" width="8" height="8.63" fill="#4210a4"/>
<text x="479.6" y="549.91" class="lt">33.18</text>
<rect x="475" y="552.94" width="32.4" height="8.63" fill="#d4d4d4"/>
<rect x="466.8" y="552.94" width="8" height="8.63" fill="#3010a8"/>
<text x="479.6" y="559.54" class="lt">35.13</text>
<rect x="475" y="562.57" width="32.4" height="8.63" fill="#d4d4d4"/>
<rect x="466.8" y="562.57" width="8" height="8.63" fill="#2010a8"/>
<text x="479.6" y="569.17" class="lt">37.08</text>
<rect x="475" y="572.20" width="32.4" height="8.63" fill="#d4d4d4"/>
<rect x="466.8" y="572.20" width="8" height="8.63" fill="#1010b4"/>
<text x="479.6" y="578.80" class="lt">&gt;38.05</text>
<rect x="475" y="581.83" width="32.4" height="8.63" fill="#d4d4d4"/>
<rect x="466.8" y="581.83" width="8" height="8.63" fill="#000000"/>
<text x="479.6" y="588.43" class="lt">&gt;40.00</text>
<text x="11.2" y="662.9" class="pl">C</text>
<text x="79.8" y="673.8" class="ttl">CMP</text>
<text x="244.5" y="674.3" class="sc" text-anchor="middle">single cells</text>
<line x1="78.60" y1="678.0" x2="78.60" y2="681.60" stroke="#333" stroke-width="0.9"/>
<path d="M76.85 681.10 L80.35 681.10 L78.90 685.20 L78.30 685.20 Z" fill="#000"/>
<line x1="82.33" y1="678.0" x2="82.33" y2="681.60" stroke="#333" stroke-width="0.9"/>
<path d="M80.58 681.10 L84.08 681.10 L82.63 685.20 L82.03 685.20 Z" fill="#000"/>
<line x1="86.06" y1="678.0" x2="86.06" y2="681.60" stroke="#333" stroke-width="0.9"/>
<path d="M84.31 681.10 L87.81 681.10 L86.36 685.20 L85.76 685.20 Z" fill="#000"/>
<line x1="89.79" y1="678.0" x2="89.79" y2="681.60" stroke="#333" stroke-width="0.9"/>
<path d="M88.04 681.10 L91.54 681.10 L90.09 685.20 L89.49 685.20 Z" fill="#000"/>
<line x1="93.52" y1="678.0" x2="93.52" y2="681.60" stroke="#333" stroke-width="0.9"/>
<path d="M91.77 681.10 L95.27 681.10 L93.82 685.20 L93.22 685.20 Z" fill="#000"/>
<line x1="97.25" y1="678.0" x2="97.25" y2="681.60" stroke="#333" stroke-width="0.9"/>
<path d="M95.50 681.10 L99.00 681.10 L97.55 685.20 L96.95 685.20 Z" fill="#000"/>
<line x1="100.98" y1="678.0" x2="100.98" y2="681.60" stroke="#333" stroke-width="0.9"/>
<path d="M99.23 681.10 L102.73 681.10 L101.28 685.20 L100.68 685.20 Z" fill="#000"/>
<line x1="104.71" y1="678.0" x2="104.71" y2="681.60" stroke="#333" stroke-width="0.9"/>
<path d="M102.96 681.10 L106.46 681.10 L105.01 685.20 L104.41 685.20 Z" fill="#000"/>
<line x1="108.44" y1="678.0" x2="108.44" y2="681.60" stroke="#333" stroke-width="0.9"/>
<path d="M106.69 681.10 L110.19 681.10 L108.74 685.20 L108.14 685.20 Z" fill="#000"/>
<line x1="112.17" y1="678.0" x2="112.17" y2="681.60" stroke="#333" stroke-width="0.9"/>
<path d="M110.42 681.10 L113.92 681.10 L112.47 685.20 L111.87 685.20 Z" fill="#000"/>
<line x1="115.90" y1="678.0" x2="115.90" y2="681.60" stroke="#333" stroke-width="0.9"/>
<path d="M114.15 681.10 L117.65 681.10 L116.20 685.20 L115.60 685.20 Z" fill="#000"/>
<line x1="119.63" y1="678.0" x2="119.63" y2="681.60" stroke="#333" stroke-width="0.9"/>
<path d="M117.88 681.10 L121.38 681.10 L119.93 685.20 L119.33 685.20 Z" fill="#000"/>
<line x1="123.36" y1="678.0" x2="123.36" y2="681.60" stroke="#333" stroke-width="0.9"/>
<path d="M121.61 681.10 L125.11 681.10 L123.66 685.20 L123.06 685.20 Z" fill="#000"/>
<line x1="127.09" y1="678.0" x2="127.09" y2="681.60" stroke="#333" stroke-width="0.9"/>
<path d="M125.34 681.10 L128.84 681.10 L127.39 685.20 L126.79 685.20 Z" fill="#000"/>
<line x1="130.82" y1="678.0" x2="130.82" y2="681.60" stroke="#333" stroke-width="0.9"/>
<path d="M129.07 681.10 L132.57 681.10 L131.12 685.20 L130.52 685.20 Z" fill="#000"/>
<line x1="134.55" y1="678.0" x2="134.55" y2="681.60" stroke="#333" stroke-width="0.9"/>
<path d="M132.80 681.10 L136.30 681.10 L134.85 685.20 L134.25 685.20 Z" fill="#000"/>
<line x1="138.28" y1="678.0" x2="138.28" y2="681.60" stroke="#333" stroke-width="0.9"/>
<path d="M136.53 681.10 L140.03 681.10 L138.58 685.20 L137.98 685.20 Z" fill="#000"/>
<line x1="142.01" y1="678.0" x2="142.01" y2="681.60" stroke="#333" stroke-width="0.9"/>
<path d="M140.26 681.10 L143.76 681.10 L142.31 685.20 L141.71 685.20 Z" fill="#000"/>
<line x1="145.74" y1="678.0" x2="145.74" y2="681.60" stroke="#333" stroke-width="0.9"/>
<path d="M143.99 681.10 L147.49 681.10 L146.04 685.20 L145.44 685.20 Z" fill="#000"/>
<line x1="149.47" y1="678.0" x2="149.47" y2="681.60" stroke="#333" stroke-width="0.9"/>
<path d="M147.72 681.10 L151.22 681.10 L149.77 685.20 L149.17 685.20 Z" fill="#000"/>
<line x1="153.20" y1="678.0" x2="153.20" y2="681.60" stroke="#333" stroke-width="0.9"/>
<path d="M151.45 681.10 L154.95 681.10 L153.50 685.20 L152.90 685.20 Z" fill="#000"/>
<line x1="156.93" y1="678.0" x2="156.93" y2="681.60" stroke="#333" stroke-width="0.9"/>
<path d="M155.18 681.10 L158.68 681.10 L157.23 685.20 L156.63 685.20 Z" fill="#000"/>
<line x1="160.66" y1="678.0" x2="160.66" y2="681.60" stroke="#333" stroke-width="0.9"/>
<path d="M158.91 681.10 L162.41 681.10 L160.96 685.20 L160.36 685.20 Z" fill="#000"/>
<line x1="164.39" y1="678.0" x2="164.39" y2="681.60" stroke="#333" stroke-width="0.9"/>
<path d="M162.64 681.10 L166.14 681.10 L164.69 685.20 L164.09 685.20 Z" fill="#000"/>
<line x1="168.12" y1="678.0" x2="168.12" y2="681.60" stroke="#333" stroke-width="0.9"/>
<path d="M166.37 681.10 L169.87 681.10 L168.42 685.20 L167.82 685.20 Z" fill="#000"/>
<line x1="171.85" y1="678.0" x2="171.85" y2="681.60" stroke="#333" stroke-width="0.9"/>
<path d="M170.10 681.10 L173.60 681.10 L172.15 685.20 L171.55 685.20 Z" fill="#000"/>
<line x1="175.58" y1="678.0" x2="175.58" y2="681.60" stroke="#333" stroke-width="0.9"/>
<path d="M173.83 681.10 L177.33 681.10 L175.88 685.20 L175.28 685.20 Z" fill="#000"/>
<line x1="179.31" y1="678.0" x2="179.31" y2="681.60" stroke="#333" stroke-width="0.9"/>
<path d="M177.56 681.10 L181.06 681.10 L179.61 685.20 L179.01 685.20 Z" fill="#000"/>
<line x1="183.04" y1="678.0" x2="183.04" y2="681.60" stroke="#333" stroke-width="0.9"/>
<path d="M181.29 681.10 L184.79 681.10 L183.34 685.20 L182.74 685.20 Z" fill="#000"/>
<line x1="186.77" y1="678.0" x2="186.77" y2="681.60" stroke="#333" stroke-width="0.9"/>
<path d="M185.02 681.10 L188.52 681.10 L187.07 685.20 L186.47 685.20 Z" fill="#000"/>
<line x1="190.50" y1="678.0" x2="190.50" y2="681.60" stroke="#333" stroke-width="0.9"/>
<path d="M188.75 681.10 L192.25 681.10 L190.80 685.20 L190.20 685.20 Z" fill="#000"/>
<line x1="194.23" y1="678.0" x2="194.23" y2="681.60" stroke="#333" stroke-width="0.9"/>
<path d="M192.48 681.10 L195.98 681.10 L194.53 685.20 L193.93 685.20 Z" fill="#000"/>
<line x1="197.96" y1="678.0" x2="197.96" y2="681.60" stroke="#333" stroke-width="0.9"/>
<path d="M196.21 681.10 L199.71 681.10 L198.26 685.20 L197.66 685.20 Z" fill="#000"/>
<line x1="201.69" y1="678.0" x2="201.69" y2="681.60" stroke="#333" stroke-width="0.9"/>
<path d="M199.94 681.10 L203.44 681.10 L201.99 685.20 L201.39 685.20 Z" fill="#000"/>
<line x1="205.42" y1="678.0" x2="205.42" y2="681.60" stroke="#333" stroke-width="0.9"/>
<path d="M203.67 681.10 L207.17 681.10 L205.72 685.20 L205.12 685.20 Z" fill="#000"/>
<line x1="209.15" y1="678.0" x2="209.15" y2="681.60" stroke="#333" stroke-width="0.9"/>
<path d="M207.40 681.10 L210.90 681.10 L209.45 685.20 L208.85 685.20 Z" fill="#000"/>
<line x1="212.88" y1="678.0" x2="212.88" y2="681.60" stroke="#333" stroke-width="0.9"/>
<path d="M211.13 681.10 L214.63 681.10 L213.18 685.20 L212.58 685.20 Z" fill="#000"/>
<line x1="216.61" y1="678.0" x2="216.61" y2="681.60" stroke="#333" stroke-width="0.9"/>
<path d="M214.86 681.10 L218.36 681.10 L216.91 685.20 L216.31 685.20 Z" fill="#000"/>
<line x1="220.34" y1="678.0" x2="220.34" y2="681.60" stroke="#333" stroke-width="0.9"/>
<path d="M218.59 681.10 L222.09 681.10 L220.64 685.20 L220.04 685.20 Z" fill="#000"/>
<line x1="224.07" y1="678.0" x2="224.07" y2="681.60" stroke="#333" stroke-width="0.9"/>
<path d="M222.32 681.10 L225.82 681.10 L224.37 685.20 L223.77 685.20 Z" fill="#000"/>
<line x1="227.80" y1="678.0" x2="227.80" y2="681.60" stroke="#333" stroke-width="0.9"/>
<path d="M226.05 681.10 L229.55 681.10 L228.10 685.20 L227.50 685.20 Z" fill="#000"/>
<line x1="231.53" y1="678.0" x2="231.53" y2="681.60" stroke="#333" stroke-width="0.9"/>
<path d="M229.78 681.10 L233.28 681.10 L231.83 685.20 L231.23 685.20 Z" fill="#000"/>
<line x1="235.26" y1="678.0" x2="235.26" y2="681.60" stroke="#333" stroke-width="0.9"/>
<path d="M233.51 681.10 L237.01 681.10 L235.56 685.20 L234.96 685.20 Z" fill="#000"/>
<line x1="238.99" y1="678.0" x2="238.99" y2="681.60" stroke="#333" stroke-width="0.9"/>
<path d="M237.24 681.10 L240.74 681.10 L239.29 685.20 L238.69 685.20 Z" fill="#000"/>
<line x1="242.72" y1="678.0" x2="242.72" y2="681.60" stroke="#333" stroke-width="0.9"/>
<path d="M240.97 681.10 L244.47 681.10 L243.02 685.20 L242.42 685.20 Z" fill="#000"/>
<line x1="246.45" y1="678.0" x2="246.45" y2="681.60" stroke="#333" stroke-width="0.9"/>
<path d="M244.70 681.10 L248.20 681.10 L246.75 685.20 L246.15 685.20 Z" fill="#000"/>
<line x1="250.18" y1="678.0" x2="250.18" y2="681.60" stroke="#333" stroke-width="0.9"/>
<path d="M248.43 681.10 L251.93 681.10 L250.48 685.20 L249.88 685.20 Z" fill="#000"/>
<line x1="253.91" y1="678.0" x2="253.91" y2="681.60" stroke="#333" stroke-width="0.9"/>
<path d="M252.16 681.10 L255.66 681.10 L254.21 685.20 L253.61 685.20 Z" fill="#000"/>
<line x1="257.64" y1="678.0" x2="257.64" y2="681.60" stroke="#333" stroke-width="0.9"/>
<path d="M255.89 681.10 L259.39 681.10 L257.94 685.20 L257.34 685.20 Z" fill="#000"/>
<line x1="261.37" y1="678.0" x2="261.37" y2="681.60" stroke="#333" stroke-width="0.9"/>
<path d="M259.62 681.10 L263.12 681.10 L261.67 685.20 L261.07 685.20 Z" fill="#000"/>
<line x1="265.10" y1="678.0" x2="265.10" y2="681.60" stroke="#333" stroke-width="0.9"/>
<path d="M263.35 681.10 L266.85 681.10 L265.40 685.20 L264.80 685.20 Z" fill="#000"/>
<line x1="268.83" y1="678.0" x2="268.83" y2="681.60" stroke="#333" stroke-width="0.9"/>
<path d="M267.08 681.10 L270.58 681.10 L269.13 685.20 L268.53 685.20 Z" fill="#000"/>
<line x1="272.56" y1="678.0" x2="272.56" y2="681.60" stroke="#333" stroke-width="0.9"/>
<path d="M270.81 681.10 L274.31 681.10 L272.86 685.20 L272.26 685.20 Z" fill="#000"/>
<line x1="276.29" y1="678.0" x2="276.29" y2="681.60" stroke="#333" stroke-width="0.9"/>
<path d="M274.54 681.10 L278.04 681.10 L276.59 685.20 L275.99 685.20 Z" fill="#000"/>
<line x1="280.02" y1="678.0" x2="280.02" y2="681.60" stroke="#333" stroke-width="0.9"/>
<path d="M278.27 681.10 L281.77 681.10 L280.32 685.20 L279.72 685.20 Z" fill="#000"/>
<line x1="283.75" y1="678.0" x2="283.75" y2="681.60" stroke="#333" stroke-width="0.9"/>
<path d="M282.00 681.10 L285.50 681.10 L284.05 685.20 L283.45 685.20 Z" fill="#000"/>
<line x1="287.48" y1="678.0" x2="287.48" y2="681.60" stroke="#333" stroke-width="0.9"/>
<path d="M285.73 681.10 L289.23 681.10 L287.78 685.20 L287.18 685.20 Z" fill="#000"/>
<line x1="291.21" y1="678.0" x2="291.21" y2="681.60" stroke="#333" stroke-width="0.9"/>
<path d="M289.46 681.10 L292.96 681.10 L291.51 685.20 L290.91 685.20 Z" fill="#000"/>
<line x1="294.94" y1="678.0" x2="294.94" y2="681.60" stroke="#333" stroke-width="0.9"/>
<path d="M293.19 681.10 L296.69 681.10 L295.24 685.20 L294.64 685.20 Z" fill="#000"/>
<line x1="298.67" y1="678.0" x2="298.67" y2="681.60" stroke="#333" stroke-width="0.9"/>
<path d="M296.92 681.10 L300.42 681.10 L298.97 685.20 L298.37 685.20 Z" fill="#000"/>
<line x1="302.40" y1="678.0" x2="302.40" y2="681.60" stroke="#333" stroke-width="0.9"/>
<path d="M300.65 681.10 L304.15 681.10 L302.70 685.20 L302.10 685.20 Z" fill="#000"/>
<line x1="306.13" y1="678.0" x2="306.13" y2="681.60" stroke="#333" stroke-width="0.9"/>
<path d="M304.38 681.10 L307.88 681.10 L306.43 685.20 L305.83 685.20 Z" fill="#000"/>
<line x1="309.86" y1="678.0" x2="309.86" y2="681.60" stroke="#333" stroke-width="0.9"/>
<path d="M308.11 681.10 L311.61 681.10 L310.16 685.20 L309.56 685.20 Z" fill="#000"/>
<line x1="313.59" y1="678.0" x2="313.59" y2="681.60" stroke="#333" stroke-width="0.9"/>
<path d="M311.84 681.10 L315.34 681.10 L313.89 685.20 L313.29 685.20 Z" fill="#000"/>
<line x1="317.32" y1="678.0" x2="317.32" y2="681.60" stroke="#333" stroke-width="0.9"/>
<path d="M315.57 681.10 L319.07 681.10 L317.62 685.20 L317.02 685.20 Z" fill="#000"/>
<line x1="321.05" y1="678.0" x2="321.05" y2="681.60" stroke="#333" stroke-width="0.9"/>
<path d="M319.30 681.10 L322.80 681.10 L321.35 685.20 L320.75 685.20 Z" fill="#000"/>
<line x1="324.78" y1="678.0" x2="324.78" y2="681.60" stroke="#333" stroke-width="0.9"/>
<path d="M323.03 681.10 L326.53 681.10 L325.08 685.20 L324.48 685.20 Z" fill="#000"/>
<line x1="328.51" y1="678.0" x2="328.51" y2="681.60" stroke="#333" stroke-width="0.9"/>
<path d="M326.76 681.10 L330.26 681.10 L328.81 685.20 L328.21 685.20 Z" fill="#000"/>
<line x1="332.24" y1="678.0" x2="332.24" y2="681.60" stroke="#333" stroke-width="0.9"/>
<path d="M330.49 681.10 L333.99 681.10 L332.54 685.20 L331.94 685.20 Z" fill="#000"/>
<line x1="335.97" y1="678.0" x2="335.97" y2="681.60" stroke="#333" stroke-width="0.9"/>
<path d="M334.22 681.10 L337.72 681.10 L336.27 685.20 L335.67 685.20 Z" fill="#000"/>
<line x1="339.70" y1="678.0" x2="339.70" y2="681.60" stroke="#333" stroke-width="0.9"/>
<path d="M337.95 681.10 L341.45 681.10 L340.00 685.20 L339.40 685.20 Z" fill="#000"/>
<line x1="343.43" y1="678.0" x2="343.43" y2="681.60" stroke="#333" stroke-width="0.9"/>
<path d="M341.68 681.10 L345.18 681.10 L343.73 685.20 L343.13 685.20 Z" fill="#000"/>
<line x1="347.16" y1="678.0" x2="347.16" y2="681.60" stroke="#333" stroke-width="0.9"/>
<path d="M345.41 681.10 L348.91 681.10 L347.46 685.20 L346.86 685.20 Z" fill="#000"/>
<line x1="350.89" y1="678.0" x2="350.89" y2="681.60" stroke="#333" stroke-width="0.9"/>
<path d="M349.14 681.10 L352.64 681.10 L351.19 685.20 L350.59 685.20 Z" fill="#000"/>
<line x1="354.62" y1="678.0" x2="354.62" y2="681.60" stroke="#333" stroke-width="0.9"/>
<path d="M352.87 681.10 L356.37 681.10 L354.92 685.20 L354.32 685.20 Z" fill="#000"/>
<line x1="358.35" y1="678.0" x2="358.35" y2="681.60" stroke="#333" stroke-width="0.9"/>
<path d="M356.60 681.10 L360.10 681.10 L358.65 685.20 L358.05 685.20 Z" fill="#000"/>
<line x1="362.08" y1="678.0" x2="362.08" y2="681.60" stroke="#333" stroke-width="0.9"/>
<path d="M360.33 681.10 L363.83 681.10 L362.38 685.20 L361.78 685.20 Z" fill="#000"/>
<line x1="365.81" y1="678.0" x2="365.81" y2="681.60" stroke="#333" stroke-width="0.9"/>
<path d="M364.06 681.10 L367.56 681.10 L366.11 685.20 L365.51 685.20 Z" fill="#000"/>
<line x1="369.54" y1="678.0" x2="369.54" y2="681.60" stroke="#333" stroke-width="0.9"/>
<path d="M367.79 681.10 L371.29 681.10 L369.84 685.20 L369.24 685.20 Z" fill="#000"/>
<line x1="373.27" y1="678.0" x2="373.27" y2="681.60" stroke="#333" stroke-width="0.9"/>
<path d="M371.52 681.10 L375.02 681.10 L373.57 685.20 L372.97 685.20 Z" fill="#000"/>
<line x1="377.00" y1="678.0" x2="377.00" y2="681.60" stroke="#333" stroke-width="0.9"/>
<path d="M375.25 681.10 L378.75 681.10 L377.30 685.20 L376.70 685.20 Z" fill="#000"/>
<line x1="380.73" y1="678.0" x2="380.73" y2="681.60" stroke="#333" stroke-width="0.9"/>
<path d="M378.98 681.10 L382.48 681.10 L381.03 685.20 L380.43 685.20 Z" fill="#000"/>
<line x1="384.46" y1="678.0" x2="384.46" y2="681.60" stroke="#333" stroke-width="0.9"/>
<path d="M382.71 681.10 L386.21 681.10 L384.76 685.20 L384.16 685.20 Z" fill="#000"/>
<line x1="388.19" y1="678.0" x2="388.19" y2="681.60" stroke="#333" stroke-width="0.9"/>
<path d="M386.44 681.10 L389.94 681.10 L388.49 685.20 L387.89 685.20 Z" fill="#000"/>
<line x1="391.92" y1="678.0" x2="391.92" y2="681.60" stroke="#333" stroke-width="0.9"/>
<path d="M390.17 681.10 L393.67 681.10 L392.22 685.20 L391.62 685.20 Z" fill="#000"/>
<line x1="395.65" y1="678.0" x2="395.65" y2="681.60" stroke="#333" stroke-width="0.9"/>
<path d="M393.90 681.10 L397.40 681.10 L395.95 685.20 L395.35 685.20 Z" fill="#000"/>
<line x1="399.38" y1="678.0" x2="399.38" y2="681.60" stroke="#333" stroke-width="0.9"/>
<path d="M397.63 681.10 L401.13 681.10 L399.68 685.20 L399.08 685.20 Z" fill="#000"/>
<line x1="403.11" y1="678.0" x2="403.11" y2="681.60" stroke="#333" stroke-width="0.9"/>
<path d="M401.36 681.10 L404.86 681.10 L403.41 685.20 L402.81 685.20 Z" fill="#000"/>
<line x1="406.84" y1="678.0" x2="406.84" y2="681.60" stroke="#333" stroke-width="0.9"/>
<path d="M405.09 681.10 L408.59 681.10 L407.14 685.20 L406.54 685.20 Z" fill="#000"/>
<line x1="410.57" y1="678.0" x2="410.57" y2="681.60" stroke="#333" stroke-width="0.9"/>
<path d="M408.82 681.10 L412.32 681.10 L410.87 685.20 L410.27 685.20 Z" fill="#000"/>
<rect x="77.2" y="686.3" width="336.00" height="251.70" fill="#000"/>
<rect x="77.2" y="686.3" width="336.00" height="242.30" fill="url(#patC)"/>
<rect x="114.53" y="686.30" width="3.73" height="9.32" fill="#e2923a" stroke="#000" stroke-opacity="0.18" stroke-width="0.6"/>
<rect x="163.07" y="686.30" width="3.73" height="9.32" fill="#e2923a" stroke="#000" stroke-opacity="0.18" stroke-width="0.6"/>
<rect x="166.80" y="686.30" width="3.73" height="9.32" fill="#e2923a" stroke="#000" stroke-opacity="0.18" stroke-width="0.6"/>
<rect x="178.00" y="686.30" width="3.73" height="9.32" fill="#e2923a" stroke="#000" stroke-opacity="0.18" stroke-width="0.6"/>
<rect x="192.93" y="686.30" width="3.73" height="9.32" fill="#e2923a" stroke="#000" stroke-opacity="0.18" stroke-width="0.6"/>
<rect x="122.00" y="695.62" width="3.73" height="9.32" fill="#e2923a" stroke="#000" stroke-opacity="0.18" stroke-width="0.6"/>
<rect x="110.80" y="704.94" width="3.73" height="9.32" fill="#e2923a" stroke="#000" stroke-opacity="0.18" stroke-width="0.6"/>
<rect x="155.60" y="704.94" width="3.73" height="9.32" fill="#e2923a" stroke="#000" stroke-opacity="0.18" stroke-width="0.6"/>
<rect x="196.67" y="704.94" width="3.73" height="9.32" fill="#e2923a" stroke="#000" stroke-opacity="0.18" stroke-width="0.6"/>
<rect x="207.87" y="704.94" width="3.73" height="9.32" fill="#e2923a" stroke="#000" stroke-opacity="0.18" stroke-width="0.6"/>
<rect x="211.60" y="704.94" width="3.73" height="9.32" fill="#e2923a" stroke="#000" stroke-opacity="0.18" stroke-width="0.6"/>
<rect x="252.67" y="704.94" width="3.73" height="9.32" fill="#d98c60" stroke="#000" stroke-opacity="0.18" stroke-width="0.6"/>
<rect x="275.07" y="704.94" width="3.73" height="9.32" fill="#d98c60" stroke="#000" stroke-opacity="0.18" stroke-width="0.6"/>
<rect x="185.47" y="714.26" width="3.73" height="9.32" fill="#d98c60" stroke="#000" stroke-opacity="0.18" stroke-width="0.6"/>
<rect x="248.93" y="714.26" width="3.73" height="9.32" fill="#e2923a" stroke="#000" stroke-opacity="0.18" stroke-width="0.6"/>
<rect x="155.60" y="723.58" width="3.73" height="9.32" fill="#e2923a" stroke="#000" stroke-opacity="0.18" stroke-width="0.6"/>
<rect x="155.60" y="732.90" width="3.73" height="9.32" fill="#e2923a" stroke="#000" stroke-opacity="0.18" stroke-width="0.6"/>
<rect x="200.40" y="732.90" width="3.73" height="9.32" fill="#d98c60" stroke="#000" stroke-opacity="0.18" stroke-width="0.6"/>
<rect x="77.20" y="742.22" width="3.73" height="9.32" fill="#c8664c" stroke="#000" stroke-opacity="0.18" stroke-width="0.6"/>
<rect x="80.93" y="742.22" width="3.73" height="9.32" fill="#c8664c" stroke="#000" stroke-opacity="0.18" stroke-width="0.6"/>
<rect x="84.67" y="742.22" width="3.73" height="9.32" fill="#e2923a" stroke="#000" stroke-opacity="0.18" stroke-width="0.6"/>
<rect x="92.13" y="742.22" width="3.73" height="9.32" fill="#e2923a" stroke="#000" stroke-opacity="0.18" stroke-width="0.6"/>
<rect x="95.87" y="742.22" width="3.73" height="9.32" fill="#e2923a" stroke="#000" stroke-opacity="0.18" stroke-width="0.6"/>
<rect x="271.33" y="742.22" width="3.73" height="9.32" fill="#e2923a" stroke="#000" stroke-opacity="0.18" stroke-width="0.6"/>
<rect x="77.20" y="751.54" width="3.73" height="9.32" fill="#e2923a" stroke="#000" stroke-opacity="0.18" stroke-width="0.6"/>
<rect x="80.93" y="751.54" width="3.73" height="9.32" fill="#e2923a" stroke="#000" stroke-opacity="0.18" stroke-width="0.6"/>
<rect x="99.60" y="751.54" width="3.73" height="9.32" fill="#aa4e7e" stroke="#000" stroke-opacity="0.18" stroke-width="0.6"/>
<rect x="129.47" y="751.54" width="3.73" height="9.32" fill="#e2923a" stroke="#000" stroke-opacity="0.18" stroke-width="0.6"/>
<rect x="185.47" y="751.54" width="3.73" height="9.32" fill="#e2923a" stroke="#000" stroke-opacity="0.18" stroke-width="0.6"/>
<rect x="241.47" y="751.54" width="3.73" height="9.32" fill="#e2923a" stroke="#000" stroke-opacity="0.18" stroke-width="0.6"/>
<rect x="245.20" y="751.54" width="3.73" height="9.32" fill="#e2923a" stroke="#000" stroke-opacity="0.18" stroke-width="0.6"/>
<rect x="77.20" y="760.86" width="3.73" height="9.32" fill="#e2923a" stroke="#000" stroke-opacity="0.18" stroke-width="0.6"/>
<rect x="80.93" y="760.86" width="3.73" height="9.32" fill="#e2923a" stroke="#000" stroke-opacity="0.18" stroke-width="0.6"/>
<rect x="84.67" y="760.86" width="3.73" height="9.32" fill="#e2923a" stroke="#000" stroke-opacity="0.18" stroke-width="0.6"/>
<rect x="95.87" y="760.86" width="3.73" height="9.32" fill="#d98c60" stroke="#000" stroke-opacity="0.18" stroke-width="0.6"/>
<rect x="114.53" y="760.86" width="3.73" height="9.32" fill="#d98c60" stroke="#000" stroke-opacity="0.18" stroke-width="0.6"/>
<rect x="122.00" y="760.86" width="3.73" height="9.32" fill="#d98c60" stroke="#000" stroke-opacity="0.18" stroke-width="0.6"/>
<rect x="125.73" y="760.86" width="3.73" height="9.32" fill="#d98c60" stroke="#000" stroke-opacity="0.18" stroke-width="0.6"/>
<rect x="159.33" y="760.86" width="3.73" height="9.32" fill="#e2923a" stroke="#000" stroke-opacity="0.18" stroke-width="0.6"/>
<rect x="170.53" y="760.86" width="3.73" height="9.32" fill="#d98c60" stroke="#000" stroke-opacity="0.18" stroke-width="0.6"/>
<rect x="181.73" y="760.86" width="3.73" height="9.32" fill="#d98c60" stroke="#000" stroke-opacity="0.18" stroke-width="0.6"/>
<rect x="215.33" y="760.86" width="3.73" height="9.32" fill="#dd8d4e" stroke="#000" stroke-opacity="0.18" stroke-width="0.6"/>
<rect x="219.07" y="760.86" width="3.73" height="9.32" fill="#dd8d4e" stroke="#000" stroke-opacity="0.18" stroke-width="0.6"/>
<rect x="222.80" y="760.86" width="3.73" height="9.32" fill="#dd8d4e" stroke="#000" stroke-opacity="0.18" stroke-width="0.6"/>
<rect x="226.53" y="760.86" width="3.73" height="9.32" fill="#dd8d4e" stroke="#000" stroke-opacity="0.18" stroke-width="0.6"/>
<rect x="230.27" y="760.86" width="3.73" height="9.32" fill="#dd8d4e" stroke="#000" stroke-opacity="0.18" stroke-width="0.6"/>
<rect x="234.00" y="760.86" width="3.73" height="9.32" fill="#dd8d4e" stroke="#000" stroke-opacity="0.18" stroke-width="0.6"/>
<rect x="237.73" y="760.86" width="3.73" height="9.32" fill="#dd8d4e" stroke="#000" stroke-opacity="0.18" stroke-width="0.6"/>
<rect x="77.20" y="770.18" width="3.73" height="9.32" fill="#aa4e7e" stroke="#000" stroke-opacity="0.18" stroke-width="0.6"/>
<rect x="80.93" y="770.18" width="3.73" height="9.32" fill="#aa4e7e" stroke="#000" stroke-opacity="0.18" stroke-width="0.6"/>
<rect x="84.67" y="770.18" width="3.73" height="9.32" fill="#aa4e7e" stroke="#000" stroke-opacity="0.18" stroke-width="0.6"/>
<rect x="88.40" y="770.18" width="3.73" height="9.32" fill="#aa4e7e" stroke="#000" stroke-opacity="0.18" stroke-width="0.6"/>
<rect x="92.13" y="770.18" width="3.73" height="9.32" fill="#aa4e7e" stroke="#000" stroke-opacity="0.18" stroke-width="0.6"/>
<rect x="107.07" y="770.18" width="3.73" height="9.32" fill="#aa4e7e" stroke="#000" stroke-opacity="0.18" stroke-width="0.6"/>
<rect x="110.80" y="770.18" width="3.73" height="9.32" fill="#aa4e7e" stroke="#000" stroke-opacity="0.18" stroke-width="0.6"/>
<rect x="114.53" y="770.18" width="3.73" height="9.32" fill="#aa4e7e" stroke="#000" stroke-opacity="0.18" stroke-width="0.6"/>
<rect x="125.73" y="770.18" width="3.73" height="9.32" fill="#aa4e7e" stroke="#000" stroke-opacity="0.18" stroke-width="0.6"/>
<rect x="80.93" y="779.50" width="3.73" height="9.32" fill="#d98c60" stroke="#000" stroke-opacity="0.18" stroke-width="0.6"/>
<rect x="189.20" y="779.50" width="3.73" height="9.32" fill="#e6a538" stroke="#000" stroke-opacity="0.18" stroke-width="0.6"/>
<rect x="84.67" y="788.82" width="3.73" height="9.32" fill="#d98c60" stroke="#000" stroke-opacity="0.18" stroke-width="0.6"/>
<rect x="92.13" y="788.82" width="3.73" height="9.32" fill="#d98c60" stroke="#000" stroke-opacity="0.18" stroke-width="0.6"/>
<rect x="95.87" y="788.82" width="3.73" height="9.32" fill="#d98c60" stroke="#000" stroke-opacity="0.18" stroke-width="0.6"/>
<rect x="196.67" y="788.82" width="3.73" height="9.32" fill="#d98c60" stroke="#000" stroke-opacity="0.18" stroke-width="0.6"/>
<rect x="77.20" y="798.14" width="3.73" height="9.32" fill="#e6a538" stroke="#000" stroke-opacity="0.18" stroke-width="0.6"/>
<rect x="84.67" y="798.14" width="3.73" height="9.32" fill="#e6a538" stroke="#000" stroke-opacity="0.18" stroke-width="0.6"/>
<rect x="88.40" y="798.14" width="3.73" height="9.32" fill="#e6a538" stroke="#000" stroke-opacity="0.18" stroke-width="0.6"/>
<rect x="95.87" y="798.14" width="3.73" height="9.32" fill="#e6a538" stroke="#000" stroke-opacity="0.18" stroke-width="0.6"/>
<rect x="99.60" y="798.14" width="3.73" height="9.32" fill="#e6a538" stroke="#000" stroke-opacity="0.18" stroke-width="0.6"/>
<rect x="103.33" y="798.14" width="3.73" height="9.32" fill="#e6a538" stroke="#000" stroke-opacity="0.18" stroke-width="0.6"/>
<rect x="107.07" y="798.14" width="3.73" height="9.32" fill="#e6a538" stroke="#000" stroke-opacity="0.18" stroke-width="0.6"/>
<rect x="114.53" y="798.14" width="3.73" height="9.32" fill="#e2923a" stroke="#000" stroke-opacity="0.18" stroke-width="0.6"/>
<rect x="263.87" y="798.14" width="3.73" height="9.32" fill="#e2923a" stroke="#000" stroke-opacity="0.18" stroke-width="0.6"/>
<rect x="77.20" y="807.46" width="3.73" height="9.32" fill="#e6a538" stroke="#000" stroke-opacity="0.18" stroke-width="0.6"/>
<rect x="80.93" y="807.46" width="3.73" height="9.32" fill="#e6a538" stroke="#000" stroke-opacity="0.18" stroke-width="0.6"/>
<rect x="84.67" y="807.46" width="3.73" height="9.32" fill="#e6a538" stroke="#000" stroke-opacity="0.18" stroke-width="0.6"/>
<rect x="88.40" y="807.46" width="3.73" height="9.32" fill="#e6a538" stroke="#000" stroke-opacity="0.18" stroke-width="0.6"/>
<rect x="92.13" y="807.46" width="3.73" height="9.32" fill="#e6a538" stroke="#000" stroke-opacity="0.18" stroke-width="0.6"/>
<rect x="95.87" y="807.46" width="3.73" height="9.32" fill="#e6a538" stroke="#000" stroke-opacity="0.18" stroke-width="0.6"/>
<rect x="99.60" y="807.46" width="3.73" height="9.32" fill="#e6a538" stroke="#000" stroke-opacity="0.18" stroke-width="0.6"/>
<rect x="103.33" y="807.46" width="3.73" height="9.32" fill="#e6a538" stroke="#000" stroke-opacity="0.18" stroke-width="0.6"/>
<rect x="204.13" y="816.78" width="3.73" height="9.32" fill="#d98c60" stroke="#000" stroke-opacity="0.18" stroke-width="0.6"/>
<rect x="80.93" y="826.10" width="3.73" height="9.32" fill="#e2923a" stroke="#000" stroke-opacity="0.18" stroke-width="0.6"/>
<rect x="84.67" y="826.10" width="3.73" height="9.32" fill="#e2923a" stroke="#000" stroke-opacity="0.18" stroke-width="0.6"/>
<rect x="88.40" y="826.10" width="3.73" height="9.32" fill="#e2923a" stroke="#000" stroke-opacity="0.18" stroke-width="0.6"/>
<rect x="92.13" y="826.10" width="3.73" height="9.32" fill="#e2923a" stroke="#000" stroke-opacity="0.18" stroke-width="0.6"/>
<rect x="95.87" y="826.10" width="3.73" height="9.32" fill="#e2923a" stroke="#000" stroke-opacity="0.18" stroke-width="0.6"/>
<rect x="103.33" y="826.10" width="3.73" height="9.32" fill="#e2923a" stroke="#000" stroke-opacity="0.18" stroke-width="0.6"/>
<rect x="110.80" y="826.10" width="3.73" height="9.32" fill="#d98c60" stroke="#000" stroke-opacity="0.18" stroke-width="0.6"/>
<rect x="77.20" y="835.42" width="3.73" height="9.32" fill="#e2923a" stroke="#000" stroke-opacity="0.18" stroke-width="0.6"/>
<rect x="80.93" y="835.42" width="3.73" height="9.32" fill="#e2923a" stroke="#000" stroke-opacity="0.18" stroke-width="0.6"/>
<rect x="84.67" y="835.42" width="3.73" height="9.32" fill="#e2923a" stroke="#000" stroke-opacity="0.18" stroke-width="0.6"/>
<rect x="92.13" y="835.42" width="3.73" height="9.32" fill="#e2923a" stroke="#000" stroke-opacity="0.18" stroke-width="0.6"/>
<rect x="95.87" y="835.42" width="3.73" height="9.32" fill="#e2923a" stroke="#000" stroke-opacity="0.18" stroke-width="0.6"/>
<rect x="77.20" y="844.74" width="3.73" height="9.32" fill="#d98c60" stroke="#000" stroke-opacity="0.18" stroke-width="0.6"/>
<rect x="88.40" y="854.06" width="3.73" height="9.32" fill="#d98c60" stroke="#000" stroke-opacity="0.18" stroke-width="0.6"/>
<rect x="140.67" y="854.06" width="3.73" height="9.32" fill="#e2923a" stroke="#000" stroke-opacity="0.18" stroke-width="0.6"/>
<rect x="77.20" y="863.38" width="3.73" height="9.32" fill="#e2923a" stroke="#000" stroke-opacity="0.18" stroke-width="0.6"/>
<rect x="77.20" y="872.70" width="3.73" height="9.32" fill="#e2923a" stroke="#000" stroke-opacity="0.18" stroke-width="0.6"/>
<rect x="88.40" y="872.70" width="3.73" height="9.32" fill="#e2923a" stroke="#000" stroke-opacity="0.18" stroke-width="0.6"/>
<rect x="95.87" y="872.70" width="3.73" height="9.32" fill="#e2923a" stroke="#000" stroke-opacity="0.18" stroke-width="0.6"/>
<rect x="260.13" y="872.70" width="3.73" height="9.32" fill="#d98c60" stroke="#000" stroke-opacity="0.18" stroke-width="0.6"/>
<rect x="118.27" y="882.02" width="3.73" height="9.32" fill="#e2923a" stroke="#000" stroke-opacity="0.18" stroke-width="0.6"/>
<rect x="122.00" y="882.02" width="3.73" height="9.32" fill="#e2923a" stroke="#000" stroke-opacity="0.18" stroke-width="0.6"/>
<rect x="125.73" y="882.02" width="3.73" height="9.32" fill="#e2923a" stroke="#000" stroke-opacity="0.18" stroke-width="0.6"/>
<rect x="129.47" y="882.02" width="3.73" height="9.32" fill="#e2923a" stroke="#000" stroke-opacity="0.18" stroke-width="0.6"/>
<rect x="136.93" y="882.02" width="3.73" height="9.32" fill="#d98c60" stroke="#000" stroke-opacity="0.18" stroke-width="0.6"/>
<rect x="144.40" y="882.02" width="3.73" height="9.32" fill="#e2923a" stroke="#000" stroke-opacity="0.18" stroke-width="0.6"/>
<rect x="148.13" y="882.02" width="3.73" height="9.32" fill="#e2923a" stroke="#000" stroke-opacity="0.18" stroke-width="0.6"/>
<rect x="151.87" y="882.02" width="3.73" height="9.32" fill="#e2923a" stroke="#000" stroke-opacity="0.18" stroke-width="0.6"/>
<rect x="178.00" y="882.02" width="3.73" height="9.32" fill="#f2d23a" stroke="#000" stroke-opacity="0.18" stroke-width="0.6"/>
<rect x="118.27" y="891.34" width="3.73" height="9.32" fill="#e6a538" stroke="#000" stroke-opacity="0.18" stroke-width="0.6"/>
<rect x="122.00" y="891.34" width="3.73" height="9.32" fill="#e6a538" stroke="#000" stroke-opacity="0.18" stroke-width="0.6"/>
<rect x="129.47" y="891.34" width="3.73" height="9.32" fill="#e6a538" stroke="#000" stroke-opacity="0.18" stroke-width="0.6"/>
<rect x="136.93" y="891.34" width="3.73" height="9.32" fill="#e6a538" stroke="#000" stroke-opacity="0.18" stroke-width="0.6"/>
<rect x="144.40" y="891.34" width="3.73" height="9.32" fill="#e6a538" stroke="#000" stroke-opacity="0.18" stroke-width="0.6"/>
<rect x="148.13" y="891.34" width="3.73" height="9.32" fill="#e6a538" stroke="#000" stroke-opacity="0.18" stroke-width="0.6"/>
<rect x="151.87" y="891.34" width="3.73" height="9.32" fill="#e6a538" stroke="#000" stroke-opacity="0.18" stroke-width="0.6"/>
<rect x="256.40" y="891.34" width="3.73" height="9.32" fill="#e2923a" stroke="#000" stroke-opacity="0.18" stroke-width="0.6"/>
<rect x="267.60" y="891.34" width="3.73" height="9.32" fill="#e2923a" stroke="#000" stroke-opacity="0.18" stroke-width="0.6"/>
<rect x="144.40" y="909.98" width="3.73" height="9.32" fill="#e2923a" stroke="#000" stroke-opacity="0.18" stroke-width="0.6"/>
<rect x="256.40" y="909.98" width="3.73" height="9.32" fill="#e2923a" stroke="#000" stroke-opacity="0.18" stroke-width="0.6"/>
<rect x="133.20" y="919.30" width="3.73" height="9.32" fill="#d98c60" stroke="#000" stroke-opacity="0.18" stroke-width="0.6"/>
<rect x="140.67" y="919.30" width="3.73" height="9.32" fill="#d98c60" stroke="#000" stroke-opacity="0.18" stroke-width="0.6"/>
<rect x="77.20" y="928.60" width="3.73" height="8.60" fill="#dc8a2a" stroke="#6a4010" stroke-opacity="0.35" stroke-width="0.6"/>
<rect x="80.93" y="928.60" width="3.73" height="8.60" fill="#eaa82d" stroke="#6a4010" stroke-opacity="0.35" stroke-width="0.6"/>
<rect x="84.67" y="928.60" width="3.73" height="8.60" fill="#e59a2a" stroke="#6a4010" stroke-opacity="0.35" stroke-width="0.6"/>
<rect x="88.40" y="928.60" width="3.73" height="8.60" fill="#e39628" stroke="#6a4010" stroke-opacity="0.35" stroke-width="0.6"/>
<rect x="92.13" y="928.60" width="3.73" height="8.60" fill="#86206a" stroke="#6a4010" stroke-opacity="0.35" stroke-width="0.6"/>
<rect x="95.87" y="928.60" width="3.73" height="8.60" fill="#dc8a2a" stroke="#6a4010" stroke-opacity="0.35" stroke-width="0.6"/>
<rect x="99.60" y="928.60" width="3.73" height="8.60" fill="#eba62e" stroke="#6a4010" stroke-opacity="0.35" stroke-width="0.6"/>
<rect x="103.33" y="928.60" width="3.73" height="8.60" fill="#e9a42c" stroke="#6a4010" stroke-opacity="0.35" stroke-width="0.6"/>
<rect x="107.07" y="928.60" width="3.73" height="8.60" fill="#eca92e" stroke="#6a4010" stroke-opacity="0.35" stroke-width="0.6"/>
<rect x="110.80" y="928.60" width="3.73" height="8.60" fill="#eca92e" stroke="#6a4010" stroke-opacity="0.35" stroke-width="0.6"/>
<rect x="114.53" y="928.60" width="3.73" height="8.60" fill="#e9a42c" stroke="#6a4010" stroke-opacity="0.35" stroke-width="0.6"/>
<rect x="118.27" y="928.60" width="3.73" height="8.60" fill="#e9a42c" stroke="#6a4010" stroke-opacity="0.35" stroke-width="0.6"/>
<rect x="122.00" y="928.60" width="3.73" height="8.60" fill="#e9a42c" stroke="#6a4010" stroke-opacity="0.35" stroke-width="0.6"/>
<rect x="125.73" y="928.60" width="3.73" height="8.60" fill="#e9a42c" stroke="#6a4010" stroke-opacity="0.35" stroke-width="0.6"/>
<rect x="129.47" y="928.60" width="3.73" height="8.60" fill="#e39628" stroke="#6a4010" stroke-opacity="0.35" stroke-width="0.6"/>
<rect x="133.20" y="928.60" width="3.73" height="8.60" fill="#eca92e" stroke="#6a4010" stroke-opacity="0.35" stroke-width="0.6"/>
<rect x="136.93" y="928.60" width="3.73" height="8.60" fill="#e59a2a" stroke="#6a4010" stroke-opacity="0.35" stroke-width="0.6"/>
<rect x="140.67" y="928.60" width="3.73" height="8.60" fill="#eca92e" stroke="#6a4010" stroke-opacity="0.35" stroke-width="0.6"/>
<rect x="144.40" y="928.60" width="3.73" height="8.60" fill="#eba62e" stroke="#6a4010" stroke-opacity="0.35" stroke-width="0.6"/>
<rect x="148.13" y="928.60" width="3.73" height="8.60" fill="#e39628" stroke="#6a4010" stroke-opacity="0.35" stroke-width="0.6"/>
<rect x="151.87" y="928.60" width="3.73" height="8.60" fill="#e9a42c" stroke="#6a4010" stroke-opacity="0.35" stroke-width="0.6"/>
<rect x="155.60" y="928.60" width="3.73" height="8.60" fill="#e59a2a" stroke="#6a4010" stroke-opacity="0.35" stroke-width="0.6"/>
<rect x="159.33" y="928.60" width="3.73" height="8.60" fill="#f0b433" stroke="#6a4010" stroke-opacity="0.35" stroke-width="0.6"/>
<rect x="163.07" y="928.60" width="3.73" height="8.60" fill="#e9a42c" stroke="#6a4010" stroke-opacity="0.35" stroke-width="0.6"/>
<rect x="166.80" y="928.60" width="3.73" height="8.60" fill="#efb232" stroke="#6a4010" stroke-opacity="0.35" stroke-width="0.6"/>
<rect x="170.53" y="928.60" width="3.73" height="8.60" fill="#f0b433" stroke="#6a4010" stroke-opacity="0.35" stroke-width="0.6"/>
<rect x="174.27" y="928.60" width="3.73" height="8.60" fill="#eba62e" stroke="#6a4010" stroke-opacity="0.35" stroke-width="0.6"/>
<rect x="178.00" y="928.60" width="3.73" height="8.60" fill="#e59a2a" stroke="#6a4010" stroke-opacity="0.35" stroke-width="0.6"/>
<rect x="181.73" y="928.60" width="3.73" height="8.60" fill="#f0b433" stroke="#6a4010" stroke-opacity="0.35" stroke-width="0.6"/>
<rect x="185.47" y="928.60" width="3.73" height="8.60" fill="#e9a42c" stroke="#6a4010" stroke-opacity="0.35" stroke-width="0.6"/>
<rect x="189.20" y="928.60" width="3.73" height="8.60" fill="#f0b433" stroke="#6a4010" stroke-opacity="0.35" stroke-width="0.6"/>
<rect x="192.93" y="928.60" width="3.73" height="8.60" fill="#e39628" stroke="#6a4010" stroke-opacity="0.35" stroke-width="0.6"/>
<rect x="196.67" y="928.60" width="3.73" height="8.60" fill="#eca92e" stroke="#6a4010" stroke-opacity="0.35" stroke-width="0.6"/>
<rect x="200.40" y="928.60" width="3.73" height="8.60" fill="#e39628" stroke="#6a4010" stroke-opacity="0.35" stroke-width="0.6"/>
<rect x="204.13" y="928.60" width="3.73" height="8.60" fill="#f0b433" stroke="#6a4010" stroke-opacity="0.35" stroke-width="0.6"/>
<rect x="207.87" y="928.60" width="3.73" height="8.60" fill="#eba62e" stroke="#6a4010" stroke-opacity="0.35" stroke-width="0.6"/>
<rect x="211.60" y="928.60" width="3.73" height="8.60" fill="#e59a2a" stroke="#6a4010" stroke-opacity="0.35" stroke-width="0.6"/>
<rect x="215.33" y="928.60" width="3.73" height="8.60" fill="#eba62e" stroke="#6a4010" stroke-opacity="0.35" stroke-width="0.6"/>
<rect x="219.07" y="928.60" width="3.73" height="8.60" fill="#efb232" stroke="#6a4010" stroke-opacity="0.35" stroke-width="0.6"/>
<rect x="222.80" y="928.60" width="3.73" height="8.60" fill="#f0b433" stroke="#6a4010" stroke-opacity="0.35" stroke-width="0.6"/>
<rect x="226.53" y="928.60" width="3.73" height="8.60" fill="#f0b433" stroke="#6a4010" stroke-opacity="0.35" stroke-width="0.6"/>
<rect x="230.27" y="928.60" width="3.73" height="8.60" fill="#f0b433" stroke="#6a4010" stroke-opacity="0.35" stroke-width="0.6"/>
<rect x="234.00" y="928.60" width="3.73" height="8.60" fill="#eba62e" stroke="#6a4010" stroke-opacity="0.35" stroke-width="0.6"/>
<rect x="237.73" y="928.60" width="3.73" height="8.60" fill="#efb232" stroke="#6a4010" stroke-opacity="0.35" stroke-width="0.6"/>
<rect x="241.47" y="928.60" width="3.73" height="8.60" fill="#dc8a2a" stroke="#6a4010" stroke-opacity="0.35" stroke-width="0.6"/>
<rect x="245.20" y="928.60" width="3.73" height="8.60" fill="#efb232" stroke="#6a4010" stroke-opacity="0.35" stroke-width="0.6"/>
<rect x="248.93" y="928.60" width="3.73" height="8.60" fill="#efb232" stroke="#6a4010" stroke-opacity="0.35" stroke-width="0.6"/>
<rect x="252.67" y="928.60" width="3.73" height="8.60" fill="#eaa82d" stroke="#6a4010" stroke-opacity="0.35" stroke-width="0.6"/>
<rect x="256.40" y="928.60" width="3.73" height="8.60" fill="#efb232" stroke="#6a4010" stroke-opacity="0.35" stroke-width="0.6"/>
<rect x="260.13" y="928.60" width="3.73" height="8.60" fill="#efb232" stroke="#6a4010" stroke-opacity="0.35" stroke-width="0.6"/>
<rect x="263.87" y="928.60" width="3.73" height="8.60" fill="#f0b433" stroke="#6a4010" stroke-opacity="0.35" stroke-width="0.6"/>
<rect x="267.60" y="928.60" width="3.73" height="8.60" fill="#e9a42c" stroke="#6a4010" stroke-opacity="0.35" stroke-width="0.6"/>
<rect x="271.33" y="928.60" width="3.73" height="8.60" fill="#eba62e" stroke="#6a4010" stroke-opacity="0.35" stroke-width="0.6"/>
<rect x="275.07" y="928.60" width="3.73" height="8.60" fill="#e9a42c" stroke="#6a4010" stroke-opacity="0.35" stroke-width="0.6"/>
<rect x="278.80" y="928.60" width="3.73" height="8.60" fill="#e9a42c" stroke="#6a4010" stroke-opacity="0.35" stroke-width="0.6"/>
<rect x="282.53" y="928.60" width="3.73" height="8.60" fill="#e39628" stroke="#6a4010" stroke-opacity="0.35" stroke-width="0.6"/>
<rect x="286.27" y="928.60" width="3.73" height="8.60" fill="#e9a42c" stroke="#6a4010" stroke-opacity="0.35" stroke-width="0.6"/>
<rect x="290.00" y="928.60" width="3.73" height="8.60" fill="#e39628" stroke="#6a4010" stroke-opacity="0.35" stroke-width="0.6"/>
<rect x="293.73" y="928.60" width="3.73" height="8.60" fill="#efb232" stroke="#6a4010" stroke-opacity="0.35" stroke-width="0.6"/>
<rect x="297.47" y="928.60" width="3.73" height="8.60" fill="#dc8a2a" stroke="#6a4010" stroke-opacity="0.35" stroke-width="0.6"/>
<rect x="301.20" y="928.60" width="3.73" height="8.60" fill="#eba62e" stroke="#6a4010" stroke-opacity="0.35" stroke-width="0.6"/>
<rect x="304.93" y="928.60" width="3.73" height="8.60" fill="#e9a42c" stroke="#6a4010" stroke-opacity="0.35" stroke-width="0.6"/>
<rect x="308.67" y="928.60" width="3.73" height="8.60" fill="#eba62e" stroke="#6a4010" stroke-opacity="0.35" stroke-width="0.6"/>
<rect x="312.40" y="928.60" width="3.73" height="8.60" fill="#eba62e" stroke="#6a4010" stroke-opacity="0.35" stroke-width="0.6"/>
<rect x="316.13" y="928.60" width="3.73" height="8.60" fill="#eca92e" stroke="#6a4010" stroke-opacity="0.35" stroke-width="0.6"/>
<rect x="319.87" y="928.60" width="3.73" height="8.60" fill="#efb232" stroke="#6a4010" stroke-opacity="0.35" stroke-width="0.6"/>
<rect x="323.60" y="928.60" width="3.73" height="8.60" fill="#eca92e" stroke="#6a4010" stroke-opacity="0.35" stroke-width="0.6"/>
<rect x="327.33" y="928.60" width="3.73" height="8.60" fill="#efb232" stroke="#6a4010" stroke-opacity="0.35" stroke-width="0.6"/>
<rect x="331.07" y="928.60" width="3.73" height="8.60" fill="#e9a42c" stroke="#6a4010" stroke-opacity="0.35" stroke-width="0.6"/>
<rect x="334.80" y="928.60" width="3.73" height="8.60" fill="#efb232" stroke="#6a4010" stroke-opacity="0.35" stroke-width="0.6"/>
<rect x="338.53" y="928.60" width="3.73" height="8.60" fill="#eba62e" stroke="#6a4010" stroke-opacity="0.35" stroke-width="0.6"/>
<rect x="342.27" y="928.60" width="3.73" height="8.60" fill="#efb232" stroke="#6a4010" stroke-opacity="0.35" stroke-width="0.6"/>
<rect x="346.00" y="928.60" width="3.73" height="8.60" fill="#e9a42c" stroke="#6a4010" stroke-opacity="0.35" stroke-width="0.6"/>
<rect x="349.73" y="928.60" width="3.73" height="8.60" fill="#dc8a2a" stroke="#6a4010" stroke-opacity="0.35" stroke-width="0.6"/>
<rect x="353.47" y="928.60" width="3.73" height="8.60" fill="#dc8a2a" stroke="#6a4010" stroke-opacity="0.35" stroke-width="0.6"/>
<rect x="357.20" y="928.60" width="3.73" height="8.60" fill="#e9a42c" stroke="#6a4010" stroke-opacity="0.35" stroke-width="0.6"/>
<rect x="360.93" y="928.60" width="3.73" height="8.60" fill="#e9a42c" stroke="#6a4010" stroke-opacity="0.35" stroke-width="0.6"/>
<rect x="364.67" y="928.60" width="3.73" height="8.60" fill="#eba62e" stroke="#6a4010" stroke-opacity="0.35" stroke-width="0.6"/>
<rect x="368.40" y="928.60" width="3.73" height="8.60" fill="#eca92e" stroke="#6a4010" stroke-opacity="0.35" stroke-width="0.6"/>
<rect x="372.13" y="928.60" width="3.73" height="8.60" fill="#eca92e" stroke="#6a4010" stroke-opacity="0.35" stroke-width="0.6"/>
<rect x="375.87" y="928.60" width="3.73" height="8.60" fill="#eaa82d" stroke="#6a4010" stroke-opacity="0.35" stroke-width="0.6"/>
<rect x="379.60" y="928.60" width="3.73" height="8.60" fill="#efb232" stroke="#6a4010" stroke-opacity="0.35" stroke-width="0.6"/>
<rect x="383.33" y="928.60" width="3.73" height="8.60" fill="#e9a42c" stroke="#6a4010" stroke-opacity="0.35" stroke-width="0.6"/>
<rect x="387.07" y="928.60" width="3.73" height="8.60" fill="#e59a2a" stroke="#6a4010" stroke-opacity="0.35" stroke-width="0.6"/>
<rect x="390.80" y="928.60" width="3.73" height="8.60" fill="#eaa82d" stroke="#6a4010" stroke-opacity="0.35" stroke-width="0.6"/>
<rect x="394.53" y="928.60" width="3.73" height="8.60" fill="#eba62e" stroke="#6a4010" stroke-opacity="0.35" stroke-width="0.6"/>
<rect x="398.27" y="928.60" width="3.73" height="8.60" fill="#eca92e" stroke="#6a4010" stroke-opacity="0.35" stroke-width="0.6"/>
<rect x="402.00" y="928.60" width="3.73" height="8.60" fill="#eaa82d" stroke="#6a4010" stroke-opacity="0.35" stroke-width="0.6"/>
<rect x="405.73" y="928.60" width="3.73" height="8.60" fill="#e9a42c" stroke="#6a4010" stroke-opacity="0.35" stroke-width="0.6"/>
<rect x="409.47" y="928.60" width="3.73" height="8.60" fill="#eaa82d" stroke="#6a4010" stroke-opacity="0.35" stroke-width="0.6"/>
<rect x="77.2" y="937.10" width="336.00" height="0.9" fill="#3a2a10"/>
<text x="42.5" y="694.40" class="gl">ENG</text>
<text x="42.5" y="703.74" class="gl">HBA1</text>
<text x="42.5" y="713.07" class="gl">EPOR</text>
<text x="42.5" y="722.40" class="gl">TFR2</text>
<text x="42.5" y="731.74" class="gl">AHSP</text>
<text x="42.5" y="741.07" class="gl">KLF1</text>
<text x="42.5" y="750.41" class="gl">GFI1B</text>
<text x="42.5" y="759.75" class="gl">MKL1</text>
<text x="42.5" y="769.08" class="gl">NFE2</text>
<text x="42.5" y="778.41" class="gl">FLI1</text>
<text x="42.5" y="787.75" class="gl">MPL</text>
<text x="42.5" y="797.09" class="gl">ITGA2</text>
<text x="42.5" y="806.42" class="gl">ITGB3</text>
<text x="42.5" y="815.75" class="gl">ITGA2B</text>
<text x="42.5" y="825.09" class="gl">TBXA2R</text>
<text x="42.5" y="834.42" class="gl">SELP</text>
<text x="42.5" y="843.76" class="gl">VWF</text>
<text x="42.5" y="853.10" class="gl">CD226</text>
<text x="42.5" y="862.43" class="gl">CD9</text>
<text x="42.5" y="871.76" class="gl">GP9</text>
<text x="42.5" y="881.10" class="gl">PPBP</text>
<text x="42.5" y="890.43" class="gl">AZU1</text>
<text x="42.5" y="899.77" class="gl">CTSG</text>
<text x="42.5" y="909.11" class="gl">CSF3R</text>
<text x="42.5" y="918.44" class="gl">GFI1</text>
<text x="42.5" y="927.77" class="gl">IRF8</text>
<text x="42.5" y="937.11" class="gl">GAPDH</text>
<rect x="28.5" y="687.8" width="5.2" height="79.6" fill="#d9847c"/>
<rect x="35.0" y="743" width="4.8" height="137" fill="#e6aa45"/>
<rect x="29.9" y="882.8" width="9.7" height="45.4" fill="#80bbe6"/>
<text transform="translate(15.2,728.0) rotate(90)" text-anchor="middle" font-size="14.7" fill="#b8402a" stroke="#b8402a" stroke-width="0.45" class="grp">Ery</text>
<text transform="translate(20.5,811.9) rotate(90)" text-anchor="middle" font-size="14.7" fill="#cc6a2a" stroke="#cc6a2a" stroke-width="0.45" class="grp">Meg</text>
<text transform="translate(15.0,906.0) rotate(90)" text-anchor="middle" font-size="14.7" fill="#88bcdc" stroke="#88bcdc" stroke-width="0.45" class="grp">GM</text>
<rect x="76.2" y="741.2" width="43.5" height="139.8" fill="none" stroke="#86e04a" stroke-width="2"/>
<line x1="116" y1="811.8" x2="163.8" y2="811.8" stroke="#fff" stroke-width="1.8"/>
<path d="M108.1 811.8 L117.4 807.9 L115.6 811.8 L117.4 815.7 Z" fill="#fff"/>
<text x="169.0" y="815.9" class="cd">CD41</text>
</svg>
<div class="frame"></div>
</body></html>
